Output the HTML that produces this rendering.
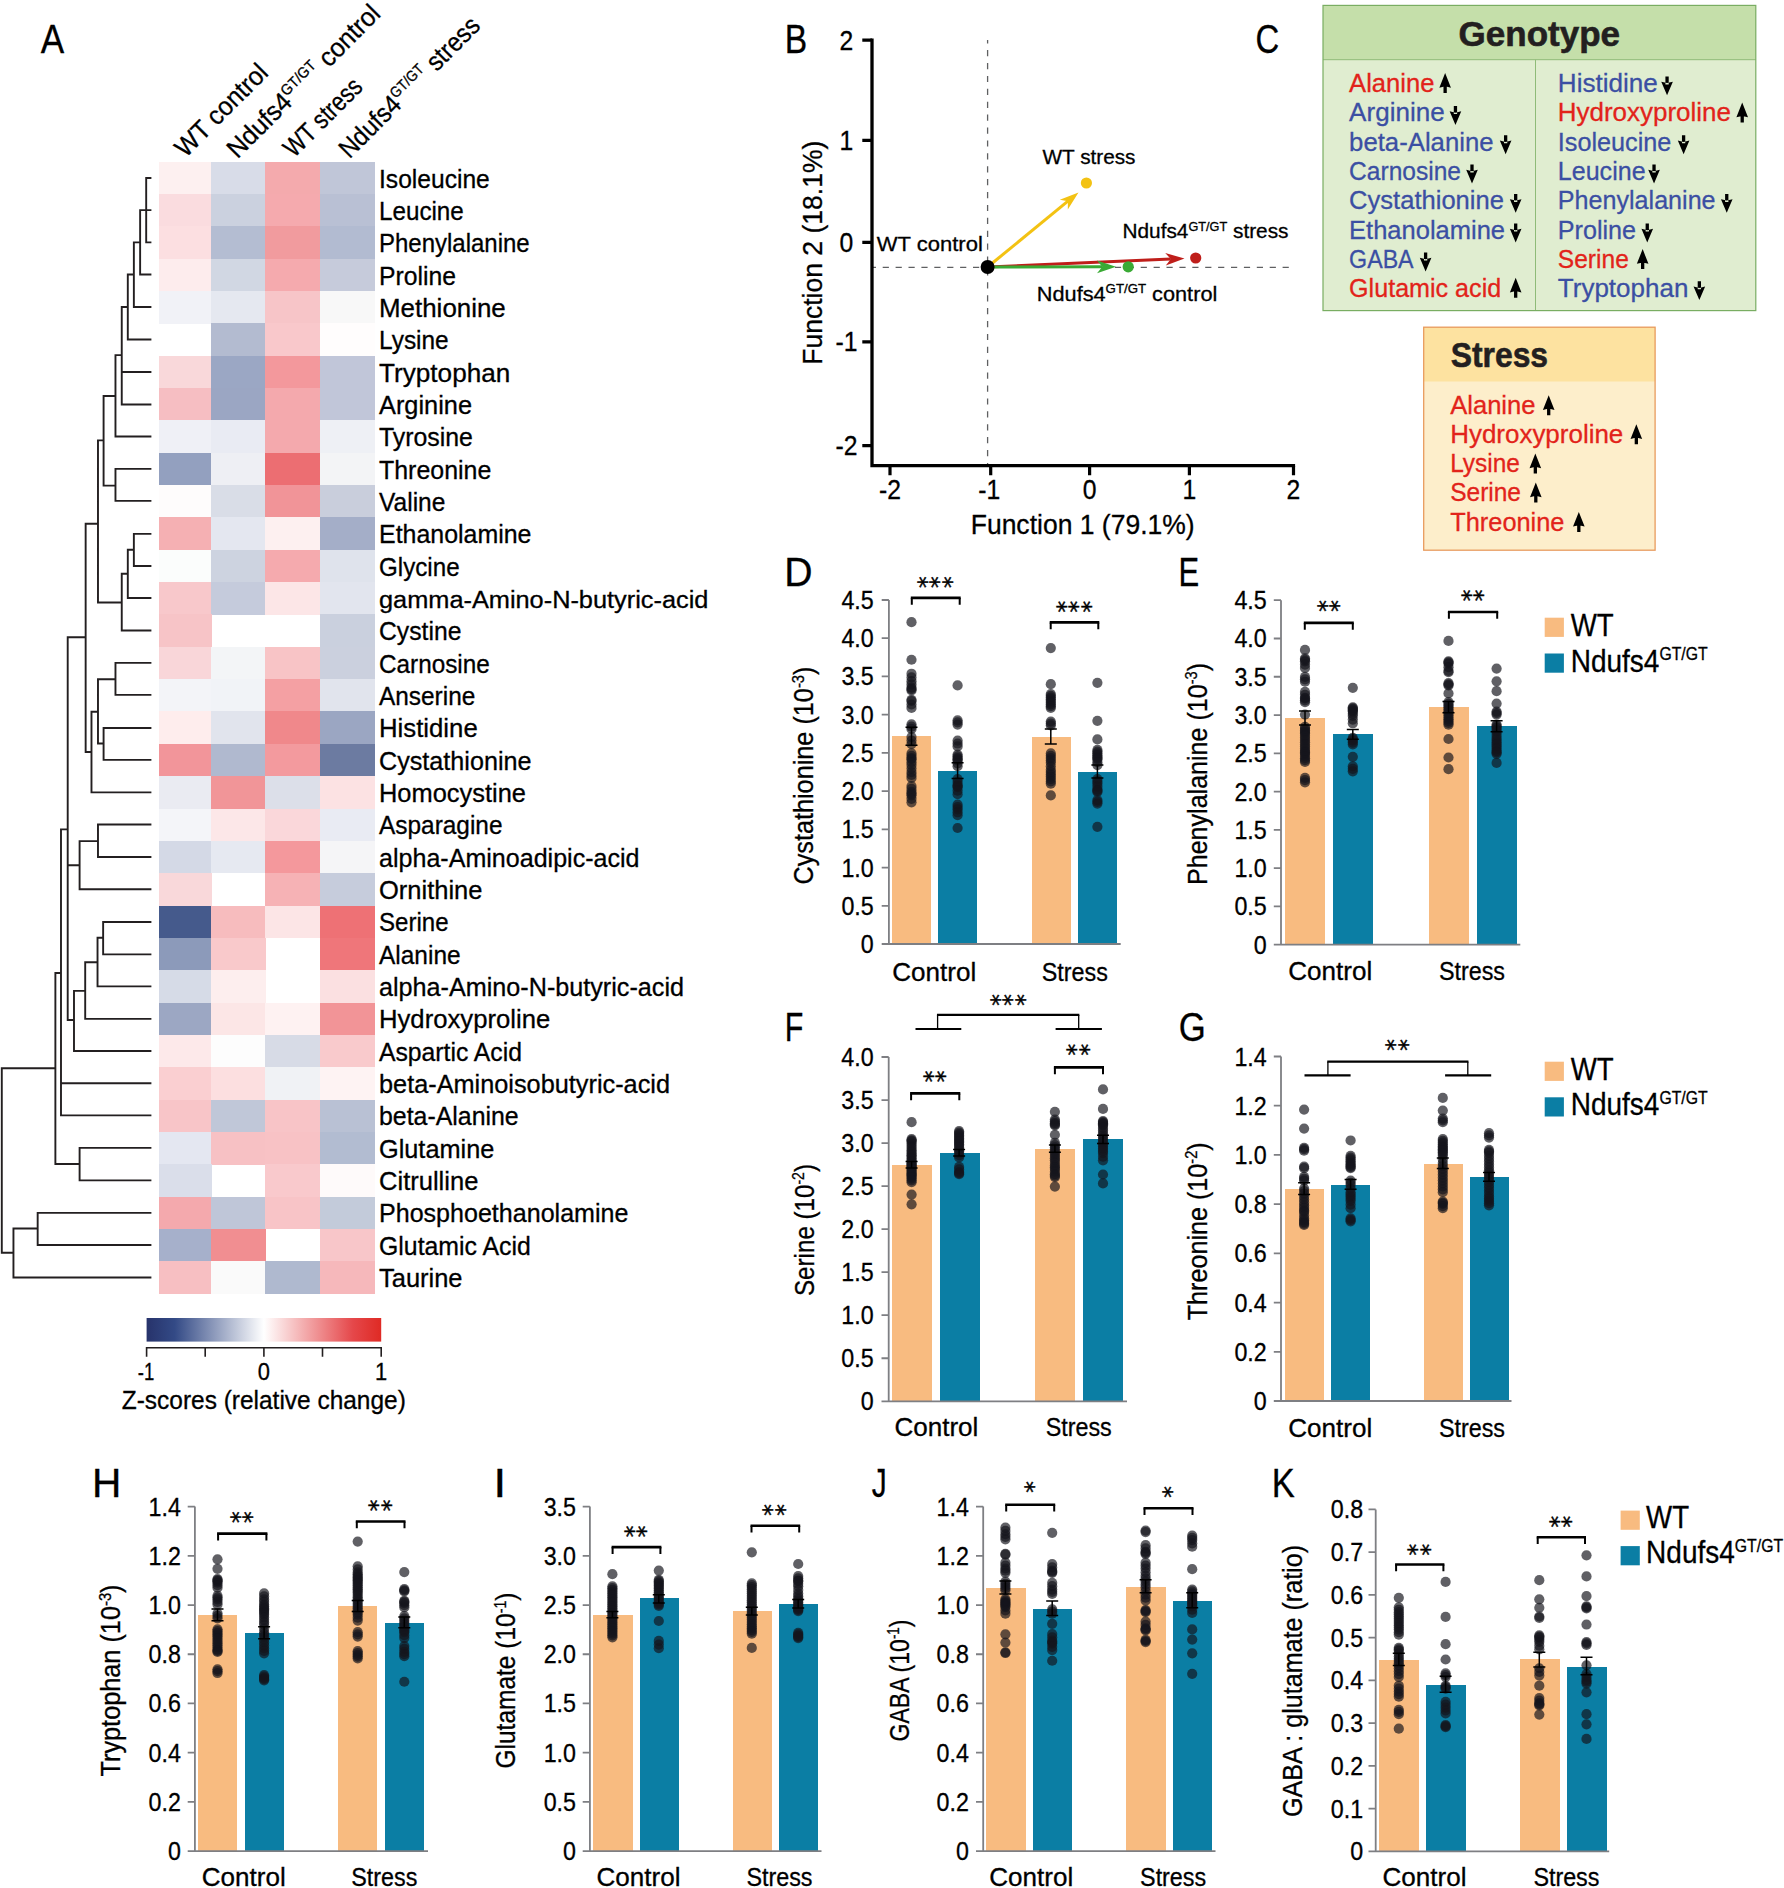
<!DOCTYPE html>
<html><head><meta charset="utf-8"><title>Figure</title>
<style>html,body{margin:0;padding:0;background:#fff}svg{display:block}text{font-family:"Liberation Sans",sans-serif}</style>
</head><body>
<svg width="1784" height="1888" viewBox="0 0 1784 1888">
<defs><linearGradient id="cb" x1="0" x2="1" y1="0" y2="0">
<stop offset="0" stop-color="#27336b"/><stop offset="0.12" stop-color="#334a86"/><stop offset="0.5" stop-color="#ffffff"/><stop offset="0.88" stop-color="#e5474a"/><stop offset="1" stop-color="#df2a24"/></linearGradient></defs>
<rect width="1784" height="1888" fill="#fff"/>
<g shape-rendering="crispEdges">
<rect x="159.2" y="161.7" width="52.5" height="32.64" fill="#fdf0f0"/>
<rect x="211.4" y="161.7" width="54.1" height="32.64" fill="#d8dce8"/>
<rect x="265.2" y="161.7" width="54.6" height="32.64" fill="#f4aaad"/>
<rect x="319.5" y="161.7" width="55.7" height="32.64" fill="#c0c6d8"/>
<rect x="159.2" y="194.04" width="52.5" height="32.64" fill="#fadcdf"/>
<rect x="211.4" y="194.04" width="54.1" height="32.64" fill="#cbd1df"/>
<rect x="265.2" y="194.04" width="54.6" height="32.64" fill="#f5aaae"/>
<rect x="319.5" y="194.04" width="55.7" height="32.64" fill="#b9c0d4"/>
<rect x="159.2" y="226.38" width="52.5" height="32.64" fill="#fcdfe1"/>
<rect x="211.4" y="226.38" width="54.1" height="32.64" fill="#b4bdd2"/>
<rect x="265.2" y="226.38" width="54.6" height="32.64" fill="#f19b9e"/>
<rect x="319.5" y="226.38" width="55.7" height="32.64" fill="#b2bbd1"/>
<rect x="159.2" y="258.72" width="52.5" height="32.64" fill="#fdeced"/>
<rect x="211.4" y="258.72" width="54.1" height="32.64" fill="#d1d7e3"/>
<rect x="265.2" y="258.72" width="54.6" height="32.64" fill="#f5aaae"/>
<rect x="319.5" y="258.72" width="55.7" height="32.64" fill="#c6cbdb"/>
<rect x="159.2" y="291.06" width="52.5" height="32.64" fill="#f1f2f7"/>
<rect x="211.4" y="291.06" width="54.1" height="32.64" fill="#e5e8f0"/>
<rect x="265.2" y="291.06" width="54.6" height="32.64" fill="#f7c5c8"/>
<rect x="319.5" y="291.06" width="55.7" height="32.64" fill="#f8f8f8"/>
<rect x="211.4" y="323.4" width="54.1" height="32.64" fill="#b3bbd0"/>
<rect x="265.2" y="323.4" width="54.6" height="32.64" fill="#f9c8cb"/>
<rect x="319.5" y="323.4" width="55.7" height="32.64" fill="#fffdfd"/>
<rect x="159.2" y="355.74" width="52.5" height="32.64" fill="#f9d8da"/>
<rect x="211.4" y="355.74" width="54.1" height="32.64" fill="#9ba7c4"/>
<rect x="265.2" y="355.74" width="54.6" height="32.64" fill="#f3989c"/>
<rect x="319.5" y="355.74" width="55.7" height="32.64" fill="#c1c6d9"/>
<rect x="159.2" y="388.08" width="52.5" height="32.64" fill="#f6bec2"/>
<rect x="211.4" y="388.08" width="54.1" height="32.64" fill="#9ba6c3"/>
<rect x="265.2" y="388.08" width="54.6" height="32.64" fill="#f4a9ad"/>
<rect x="319.5" y="388.08" width="55.7" height="32.64" fill="#c1c6d9"/>
<rect x="159.2" y="420.42" width="52.5" height="32.64" fill="#eff0f6"/>
<rect x="211.4" y="420.42" width="54.1" height="32.64" fill="#e9ebf3"/>
<rect x="265.2" y="420.42" width="54.6" height="32.64" fill="#f4a9ad"/>
<rect x="319.5" y="420.42" width="55.7" height="32.64" fill="#eef0f5"/>
<rect x="159.2" y="452.76" width="52.5" height="32.64" fill="#93a0bf"/>
<rect x="211.4" y="452.76" width="54.1" height="32.64" fill="#eeeff4"/>
<rect x="265.2" y="452.76" width="54.6" height="32.64" fill="#ec6e72"/>
<rect x="319.5" y="452.76" width="55.7" height="32.64" fill="#f3f4f6"/>
<rect x="159.2" y="485.1" width="52.5" height="32.64" fill="#fefcfc"/>
<rect x="211.4" y="485.1" width="54.1" height="32.64" fill="#d9dde7"/>
<rect x="265.2" y="485.1" width="54.6" height="32.64" fill="#f19498"/>
<rect x="319.5" y="485.1" width="55.7" height="32.64" fill="#c9cedc"/>
<rect x="159.2" y="517.44" width="52.5" height="32.64" fill="#f5b0b3"/>
<rect x="211.4" y="517.44" width="54.1" height="32.64" fill="#e4e7f0"/>
<rect x="265.2" y="517.44" width="54.6" height="32.64" fill="#fdf0f0"/>
<rect x="319.5" y="517.44" width="55.7" height="32.64" fill="#a4aec8"/>
<rect x="159.2" y="549.78" width="52.5" height="32.64" fill="#fbfdfc"/>
<rect x="211.4" y="549.78" width="54.1" height="32.64" fill="#cdd3e0"/>
<rect x="265.2" y="549.78" width="54.6" height="32.64" fill="#f5aaae"/>
<rect x="319.5" y="549.78" width="55.7" height="32.64" fill="#dfe3ec"/>
<rect x="159.2" y="582.12" width="52.5" height="32.64" fill="#f8c8cb"/>
<rect x="211.4" y="582.12" width="54.1" height="32.64" fill="#c5cbdc"/>
<rect x="265.2" y="582.12" width="54.6" height="32.64" fill="#fce6e7"/>
<rect x="319.5" y="582.12" width="55.7" height="32.64" fill="#e2e5ee"/>
<rect x="159.2" y="614.46" width="52.5" height="32.64" fill="#f7c4c7"/>
<rect x="319.5" y="614.46" width="55.7" height="32.64" fill="#cad0de"/>
<rect x="159.2" y="646.8" width="52.5" height="32.64" fill="#f9d6d9"/>
<rect x="211.4" y="646.8" width="54.1" height="32.64" fill="#f3f5f7"/>
<rect x="265.2" y="646.8" width="54.6" height="32.64" fill="#f8c4c6"/>
<rect x="319.5" y="646.8" width="55.7" height="32.64" fill="#cbd0de"/>
<rect x="159.2" y="679.14" width="52.5" height="32.64" fill="#f3f4f8"/>
<rect x="211.4" y="679.14" width="54.1" height="32.64" fill="#f1f3f7"/>
<rect x="265.2" y="679.14" width="54.6" height="32.64" fill="#f4a0a3"/>
<rect x="319.5" y="679.14" width="55.7" height="32.64" fill="#e1e4ed"/>
<rect x="159.2" y="711.48" width="52.5" height="32.64" fill="#feeded"/>
<rect x="211.4" y="711.48" width="54.1" height="32.64" fill="#e1e4ed"/>
<rect x="265.2" y="711.48" width="54.6" height="32.64" fill="#f0888b"/>
<rect x="319.5" y="711.48" width="55.7" height="32.64" fill="#9ba6c2"/>
<rect x="159.2" y="743.82" width="52.5" height="32.64" fill="#f2959a"/>
<rect x="211.4" y="743.82" width="54.1" height="32.64" fill="#b0b9cf"/>
<rect x="265.2" y="743.82" width="54.6" height="32.64" fill="#f39a9e"/>
<rect x="319.5" y="743.82" width="55.7" height="32.64" fill="#6c7ba1"/>
<rect x="159.2" y="776.16" width="52.5" height="32.64" fill="#eaebf2"/>
<rect x="211.4" y="776.16" width="54.1" height="32.64" fill="#f19598"/>
<rect x="265.2" y="776.16" width="54.6" height="32.64" fill="#dcdfe9"/>
<rect x="319.5" y="776.16" width="55.7" height="32.64" fill="#fce2e3"/>
<rect x="159.2" y="808.5" width="52.5" height="32.64" fill="#f4f5f9"/>
<rect x="211.4" y="808.5" width="54.1" height="32.64" fill="#fce7e8"/>
<rect x="265.2" y="808.5" width="54.6" height="32.64" fill="#fad7da"/>
<rect x="319.5" y="808.5" width="55.7" height="32.64" fill="#e9ebf3"/>
<rect x="159.2" y="840.84" width="52.5" height="32.64" fill="#d4d9e6"/>
<rect x="211.4" y="840.84" width="54.1" height="32.64" fill="#e6e9f1"/>
<rect x="265.2" y="840.84" width="54.6" height="32.64" fill="#f4989c"/>
<rect x="319.5" y="840.84" width="55.7" height="32.64" fill="#f5f5f7"/>
<rect x="159.2" y="873.18" width="52.5" height="32.64" fill="#f9d8da"/>
<rect x="265.2" y="873.18" width="54.6" height="32.64" fill="#f6b2b5"/>
<rect x="319.5" y="873.18" width="55.7" height="32.64" fill="#c6ccdc"/>
<rect x="159.2" y="905.52" width="52.5" height="32.64" fill="#455a8c"/>
<rect x="211.4" y="905.52" width="54.1" height="32.64" fill="#f7bcbe"/>
<rect x="265.2" y="905.52" width="54.6" height="32.64" fill="#fce5e6"/>
<rect x="319.5" y="905.52" width="55.7" height="32.64" fill="#ee7175"/>
<rect x="159.2" y="937.86" width="52.5" height="32.64" fill="#8c9aba"/>
<rect x="211.4" y="937.86" width="54.1" height="32.64" fill="#f9c9cb"/>
<rect x="319.5" y="937.86" width="55.7" height="32.64" fill="#ef767a"/>
<rect x="159.2" y="970.2" width="52.5" height="32.64" fill="#d6dbe7"/>
<rect x="211.4" y="970.2" width="54.1" height="32.64" fill="#fdeeee"/>
<rect x="319.5" y="970.2" width="55.7" height="32.64" fill="#fbe0e1"/>
<rect x="159.2" y="1002.54" width="52.5" height="32.64" fill="#9ca7c3"/>
<rect x="211.4" y="1002.54" width="54.1" height="32.64" fill="#fce6e6"/>
<rect x="265.2" y="1002.54" width="54.6" height="32.64" fill="#fef2f2"/>
<rect x="319.5" y="1002.54" width="55.7" height="32.64" fill="#f29497"/>
<rect x="159.2" y="1034.88" width="52.5" height="32.64" fill="#fde9ea"/>
<rect x="211.4" y="1034.88" width="54.1" height="32.64" fill="#fdfdfd"/>
<rect x="265.2" y="1034.88" width="54.6" height="32.64" fill="#d7dbe6"/>
<rect x="319.5" y="1034.88" width="55.7" height="32.64" fill="#f9cacc"/>
<rect x="159.2" y="1067.22" width="52.5" height="32.64" fill="#facfd1"/>
<rect x="211.4" y="1067.22" width="54.1" height="32.64" fill="#fcdfe0"/>
<rect x="265.2" y="1067.22" width="54.6" height="32.64" fill="#f0f2f5"/>
<rect x="319.5" y="1067.22" width="55.7" height="32.64" fill="#fef3f3"/>
<rect x="159.2" y="1099.56" width="52.5" height="32.64" fill="#f8c5c8"/>
<rect x="211.4" y="1099.56" width="54.1" height="32.64" fill="#c0c7d8"/>
<rect x="265.2" y="1099.56" width="54.6" height="32.64" fill="#f8c4c7"/>
<rect x="319.5" y="1099.56" width="55.7" height="32.64" fill="#b9c1d4"/>
<rect x="159.2" y="1131.9" width="52.5" height="32.64" fill="#e4e7f1"/>
<rect x="211.4" y="1131.9" width="54.1" height="32.64" fill="#f7c1c4"/>
<rect x="265.2" y="1131.9" width="54.6" height="32.64" fill="#f8c2c5"/>
<rect x="319.5" y="1131.9" width="55.7" height="32.64" fill="#b2bcd1"/>
<rect x="159.2" y="1164.24" width="52.5" height="32.64" fill="#dadeea"/>
<rect x="265.2" y="1164.24" width="54.6" height="32.64" fill="#f9c9cc"/>
<rect x="319.5" y="1164.24" width="55.7" height="32.64" fill="#fefafa"/>
<rect x="159.2" y="1196.58" width="52.5" height="32.64" fill="#f4a9ad"/>
<rect x="211.4" y="1196.58" width="54.1" height="32.64" fill="#bfc6d8"/>
<rect x="265.2" y="1196.58" width="54.6" height="32.64" fill="#f8c4c7"/>
<rect x="319.5" y="1196.58" width="55.7" height="32.64" fill="#c3cbda"/>
<rect x="159.2" y="1228.92" width="52.5" height="32.64" fill="#a6b0cb"/>
<rect x="211.4" y="1228.92" width="54.1" height="32.64" fill="#f18e91"/>
<rect x="319.5" y="1228.92" width="55.7" height="32.64" fill="#f8c6c9"/>
<rect x="159.2" y="1261.26" width="52.5" height="32.64" fill="#f7bfc2"/>
<rect x="211.4" y="1261.26" width="54.1" height="32.64" fill="#fafafa"/>
<rect x="265.2" y="1261.26" width="54.6" height="32.64" fill="#afb9cf"/>
<rect x="319.5" y="1261.26" width="55.7" height="32.64" fill="#f6b8bb"/>
</g>
<text x="379" y="187.6" font-size="25.3" textLength="110.8" lengthAdjust="spacingAndGlyphs" stroke="#000" stroke-width="0.3">Isoleucine</text>
<text x="379" y="219.94" font-size="25.3" textLength="84.8" lengthAdjust="spacingAndGlyphs" stroke="#000" stroke-width="0.3">Leucine</text>
<text x="379" y="252.28" font-size="25.3" textLength="150.7" lengthAdjust="spacingAndGlyphs" stroke="#000" stroke-width="0.3">Phenylalanine</text>
<text x="379" y="284.62" font-size="25.3" textLength="77" lengthAdjust="spacingAndGlyphs" stroke="#000" stroke-width="0.3">Proline</text>
<text x="379" y="316.96" font-size="25.3" textLength="126.8" lengthAdjust="spacingAndGlyphs" stroke="#000" stroke-width="0.3">Methionine</text>
<text x="379" y="349.3" font-size="25.3" textLength="69.7" lengthAdjust="spacingAndGlyphs" stroke="#000" stroke-width="0.3">Lysine</text>
<text x="379" y="381.64" font-size="25.3" textLength="131.3" lengthAdjust="spacingAndGlyphs" stroke="#000" stroke-width="0.3">Tryptophan</text>
<text x="379" y="413.98" font-size="25.3" textLength="93" lengthAdjust="spacingAndGlyphs" stroke="#000" stroke-width="0.3">Arginine</text>
<text x="379" y="446.32" font-size="25.3" textLength="93.9" lengthAdjust="spacingAndGlyphs" stroke="#000" stroke-width="0.3">Tyrosine</text>
<text x="379" y="478.66" font-size="25.3" textLength="112.3" lengthAdjust="spacingAndGlyphs" stroke="#000" stroke-width="0.3">Threonine</text>
<text x="379" y="511" font-size="25.3" textLength="66.4" lengthAdjust="spacingAndGlyphs" stroke="#000" stroke-width="0.3">Valine</text>
<text x="379" y="543.34" font-size="25.3" textLength="152.5" lengthAdjust="spacingAndGlyphs" stroke="#000" stroke-width="0.3">Ethanolamine</text>
<text x="379" y="575.68" font-size="25.3" textLength="80.6" lengthAdjust="spacingAndGlyphs" stroke="#000" stroke-width="0.3">Glycine</text>
<text x="379" y="608.02" font-size="23.5" textLength="329.4" lengthAdjust="spacingAndGlyphs" stroke="#000" stroke-width="0.3">gamma-Amino-N-butyric-acid</text>
<text x="379" y="640.36" font-size="25.3" textLength="82.4" lengthAdjust="spacingAndGlyphs" stroke="#000" stroke-width="0.3">Cystine</text>
<text x="379" y="672.7" font-size="25.3" textLength="110.8" lengthAdjust="spacingAndGlyphs" stroke="#000" stroke-width="0.3">Carnosine</text>
<text x="379" y="705.04" font-size="25.3" textLength="96.3" lengthAdjust="spacingAndGlyphs" stroke="#000" stroke-width="0.3">Anserine</text>
<text x="379" y="737.38" font-size="25.3" textLength="98.7" lengthAdjust="spacingAndGlyphs" stroke="#000" stroke-width="0.3">Histidine</text>
<text x="379" y="769.72" font-size="25.3" textLength="152.5" lengthAdjust="spacingAndGlyphs" stroke="#000" stroke-width="0.3">Cystathionine</text>
<text x="379" y="802.06" font-size="25.3" textLength="147" lengthAdjust="spacingAndGlyphs" stroke="#000" stroke-width="0.3">Homocystine</text>
<text x="379" y="834.4" font-size="25.3" textLength="123.5" lengthAdjust="spacingAndGlyphs" stroke="#000" stroke-width="0.3">Asparagine</text>
<text x="379" y="866.74" font-size="25.3" textLength="260.5" lengthAdjust="spacingAndGlyphs" stroke="#000" stroke-width="0.3">alpha-Aminoadipic-acid</text>
<text x="379" y="899.08" font-size="25.3" textLength="103.5" lengthAdjust="spacingAndGlyphs" stroke="#000" stroke-width="0.3">Ornithine</text>
<text x="379" y="931.42" font-size="25.3" textLength="69.5" lengthAdjust="spacingAndGlyphs" stroke="#000" stroke-width="0.3">Serine</text>
<text x="379" y="963.76" font-size="25.3" textLength="81.6" lengthAdjust="spacingAndGlyphs" stroke="#000" stroke-width="0.3">Alanine</text>
<text x="379" y="996.1" font-size="25.3" textLength="305" lengthAdjust="spacingAndGlyphs" stroke="#000" stroke-width="0.3">alpha-Amino-N-butyric-acid</text>
<text x="379" y="1028.44" font-size="25.3" textLength="171.2" lengthAdjust="spacingAndGlyphs" stroke="#000" stroke-width="0.3">Hydroxyproline</text>
<text x="379" y="1060.78" font-size="25.3" textLength="142.9" lengthAdjust="spacingAndGlyphs" stroke="#000" stroke-width="0.3">Aspartic Acid</text>
<text x="379" y="1093.12" font-size="25.3" textLength="291" lengthAdjust="spacingAndGlyphs" stroke="#000" stroke-width="0.3">beta-Aminoisobutyric-acid</text>
<text x="379" y="1125.46" font-size="25.3" textLength="139.7" lengthAdjust="spacingAndGlyphs" stroke="#000" stroke-width="0.3">beta-Alanine</text>
<text x="379" y="1157.8" font-size="25.3" textLength="115.3" lengthAdjust="spacingAndGlyphs" stroke="#000" stroke-width="0.3">Glutamine</text>
<text x="379" y="1190.14" font-size="25.3" textLength="99.4" lengthAdjust="spacingAndGlyphs" stroke="#000" stroke-width="0.3">Citrulline</text>
<text x="379" y="1222.48" font-size="25.3" textLength="249.4" lengthAdjust="spacingAndGlyphs" stroke="#000" stroke-width="0.3">Phosphoethanolamine</text>
<text x="379" y="1254.82" font-size="25.3" textLength="151.8" lengthAdjust="spacingAndGlyphs" stroke="#000" stroke-width="0.3">Glutamic Acid</text>
<text x="379" y="1287.16" font-size="25.3" textLength="83.5" lengthAdjust="spacingAndGlyphs" stroke="#000" stroke-width="0.3">Taurine</text>
<path d="M146.19 178.03L146.19 242.38M146.19 178.03L150.45 178.03M146.19 210.09L150.45 210.09M146.19 242.38L150.45 242.38M140.13 210.09L146.19 210.09M140.13 210.09L140.13 274.44M140.13 274.44L150.45 274.44M133.86 242.38L140.13 242.38M133.86 242.38L133.86 306.95M133.86 306.95L150.45 306.95M127.8 274.44L133.86 274.44M127.8 274.44L127.8 339.46M127.8 339.46L150.45 339.46M121.75 306.95L127.8 306.95M121.75 306.95L121.75 404.48M121.75 371.97L150.45 371.97M121.75 404.48L150.45 404.48M115.47 355.16L121.75 355.16M115.47 355.16L115.47 436.55M115.47 436.55L150.45 436.55M103.59 395.96L115.47 395.96M103.59 395.96L103.59 485.65M115.47 468.83L115.47 500.9M115.47 468.83L150.45 468.83M115.47 500.9L150.45 500.9M103.59 485.65L115.47 485.65M97.98 440.36L103.59 440.36M97.98 440.36L97.98 602.47M85.65 523.77L97.98 523.77M85.65 523.77L85.65 752.02M133.86 533.9L133.86 565.96M133.86 533.9L150.45 533.9M133.86 565.96L150.45 565.96M127.8 549.82L133.86 549.82M127.8 549.82L127.8 598.03M127.8 598.03L150.45 598.03M121.75 573.81L127.8 573.81M121.75 573.81L121.75 630.54M121.75 630.54L150.45 630.54M97.98 602.51L121.75 602.51M85.65 752.06L91.48 752.06M91.48 711.7L91.48 792.42M91.48 711.7L97.98 711.7M97.98 679.19L97.98 743.54M97.98 679.19L115.47 679.19M115.47 662.83L115.47 694.89M115.47 662.83L150.45 662.83M115.47 694.89L150.45 694.89M97.98 743.54L103.59 743.54M103.59 728.07L103.59 759.91M103.59 728.07L150.45 728.07M103.59 759.91L150.45 759.91M91.48 792.42L150.45 792.42M67.71 637.26L85.65 637.26M67.71 637.26L67.71 1020M97.98 824.48L97.98 857M97.98 824.48L150.45 824.48M97.98 857L150.45 857M79.6 841.08L97.98 841.08M79.6 841.08L79.6 889.28M79.6 889.28L150.45 889.28M67.71 865.29L79.6 865.29M60.99 829.42L67.71 829.42M60.99 829.42L60.99 1115.29M103.14 922.06L103.14 954.35M103.14 922.06L150.45 922.06M103.14 954.35L150.45 954.35M97.53 937.76L103.14 937.76M97.53 937.76L97.53 986.41M97.53 986.41L150.45 986.41M85.2 962.2L97.53 962.2M85.2 962.2L85.2 1018.92M85.2 1018.92L150.45 1018.92M73.99 990.9L85.2 990.9M73.99 990.9L73.99 1050.99M73.99 1050.99L150.45 1050.99M67.71 1020.04L73.99 1020.04M60.99 1083.27L150.45 1083.27M60.99 1115.34L150.45 1115.34M55.38 972.96L60.99 972.96M55.38 972.96L55.38 1163.99M55.38 1163.99L79.6 1163.99M79.6 1147.85L79.6 1180.36M79.6 1147.85L150.45 1147.85M79.6 1180.36L150.45 1180.36M1.79 1068.25L55.38 1068.25M1.79 1068.25L1.79 1252.78M1.79 1252.78L13.45 1252.78M13.45 1228.57L13.45 1277.44M13.45 1277.44L150.45 1277.44M13.45 1228.57L37.67 1228.57M37.67 1212.87L37.67 1244.93M37.67 1212.87L150.45 1212.87M37.67 1244.93L150.45 1244.93" stroke="#231f20" stroke-width="1.9" fill="none" stroke-linecap="square"/>
<text transform="translate(185.4 158.5) rotate(-45)" font-size="26.5" stroke="#000" stroke-width="0.3" textLength="119" lengthAdjust="spacingAndGlyphs">WT control</text>
<text transform="translate(237.6 159.6) rotate(-45)" font-size="26.5" stroke="#000" stroke-width="0.3" textLength="204" lengthAdjust="spacingAndGlyphs">Ndufs4<tspan font-size="15" dy="-10">GT/GT</tspan><tspan dy="10"> control</tspan></text>
<text transform="translate(294 158.5) rotate(-45)" font-size="26.5" stroke="#000" stroke-width="0.3" textLength="99" lengthAdjust="spacingAndGlyphs">WT stress</text>
<text transform="translate(349.4 159.6) rotate(-45)" font-size="26.5" stroke="#000" stroke-width="0.3" textLength="187" lengthAdjust="spacingAndGlyphs">Ndufs4<tspan font-size="15" dy="-10">GT/GT</tspan><tspan dy="10"> stress</tspan></text>
<rect x="146.6" y="1318" width="234.6" height="23.6" fill="url(#cb)"/>
<path d="M146.6 1356.8V1347.8H381.2V1356.8M205.2 1347.8V1356.8M263.9 1347.8V1356.8M322.5 1347.8V1356.8" stroke="#231f20" stroke-width="1.6" fill="none"/>
<text x="146" y="1380.4" font-size="24" text-anchor="middle" textLength="16.5" lengthAdjust="spacingAndGlyphs" stroke="#000" stroke-width="0.3">-1</text>
<text x="263.9" y="1380.4" font-size="24" text-anchor="middle" textLength="12.2" lengthAdjust="spacingAndGlyphs" stroke="#000" stroke-width="0.3">0</text>
<text x="381.2" y="1380.4" font-size="24" text-anchor="middle" textLength="12.2" lengthAdjust="spacingAndGlyphs" stroke="#000" stroke-width="0.3">1</text>
<text x="121.8" y="1408.7" font-size="25.3" textLength="284" lengthAdjust="spacingAndGlyphs" stroke="#000" stroke-width="0.3">Z-scores (relative change)</text>
<text x="40.63" y="53" font-size="40" textLength="23.44" lengthAdjust="spacingAndGlyphs" stroke="#000" stroke-width="0.3">A</text>
<path d="M987.6 40V465" stroke="#5f6062" stroke-width="1.3" stroke-dasharray="6.2 6.7" stroke-dashoffset="2.8" fill="none"/>
<path d="M873 267.4H1293" stroke="#5f6062" stroke-width="1.3" stroke-dasharray="6.2 6.7" stroke-dashoffset="3.2" fill="none"/>
<path d="M872 38.6V465.7H1295.1" stroke="#000" stroke-width="3.3" fill="none"/>
<path d="M862.3 40.2H872M862.3 140.3H872M862.3 242.3H872M862.3 341.8H872M862.3 445.6H872M890 465.7V475.3M990.7 465.7V475.3M1089.6 465.7V475.3M1189.4 465.7V475.3M1293.5 465.7V475.3" stroke="#000" stroke-width="3.2" fill="none"/>
<text x="846.5" y="49.5" font-size="27.5" text-anchor="middle" textLength="13.76" lengthAdjust="spacingAndGlyphs" stroke="#000" stroke-width="0.3">2</text>
<text x="846.5" y="149.6" font-size="27.5" text-anchor="middle" textLength="13.76" lengthAdjust="spacingAndGlyphs" stroke="#000" stroke-width="0.3">1</text>
<text x="846.5" y="251.6" font-size="27.5" text-anchor="middle" textLength="13.76" lengthAdjust="spacingAndGlyphs" stroke="#000" stroke-width="0.3">0</text>
<text x="846.5" y="351.1" font-size="27.5" text-anchor="middle" textLength="22" lengthAdjust="spacingAndGlyphs" stroke="#000" stroke-width="0.3">-1</text>
<text x="846.5" y="454.9" font-size="27.5" text-anchor="middle" textLength="22" lengthAdjust="spacingAndGlyphs" stroke="#000" stroke-width="0.3">-2</text>
<text x="890" y="499.3" font-size="27.5" text-anchor="middle" textLength="22" lengthAdjust="spacingAndGlyphs" stroke="#000" stroke-width="0.3">-2</text>
<text x="989.2" y="499.3" font-size="27.5" text-anchor="middle" textLength="22" lengthAdjust="spacingAndGlyphs" stroke="#000" stroke-width="0.3">-1</text>
<text x="1089.6" y="499.3" font-size="27.5" text-anchor="middle" textLength="13.76" lengthAdjust="spacingAndGlyphs" stroke="#000" stroke-width="0.3">0</text>
<text x="1189.4" y="499.3" font-size="27.5" text-anchor="middle" textLength="13.76" lengthAdjust="spacingAndGlyphs" stroke="#000" stroke-width="0.3">1</text>
<text x="1293.5" y="499.3" font-size="27.5" text-anchor="middle" textLength="13.76" lengthAdjust="spacingAndGlyphs" stroke="#000" stroke-width="0.3">2</text>
<text x="1082.7" y="533.8" font-size="27" text-anchor="middle" textLength="224" lengthAdjust="spacingAndGlyphs" stroke="#000" stroke-width="0.3">Function 1 (79.1%)</text>
<text transform="translate(822 252.7) rotate(-90)" font-size="27" stroke="#000" stroke-width="0.3" text-anchor="middle" textLength="224" lengthAdjust="spacingAndGlyphs">Function 2 (18.1%)</text>
<path d="M987.6 267L1170.83 259.09" stroke="#bf1e1a" stroke-width="3" fill="none"/>
<path d="M1184.5 258.5L1165.79 265.61L1170.83 259.09L1165.25 253.03Z" fill="#bf1e1a"/>
<path d="M987.6 267L1102.32 266.82" stroke="#3aaa35" stroke-width="3" fill="none"/>
<path d="M1116 266.8L1097.01 273.13L1102.32 266.82L1096.99 260.53Z" fill="#3aaa35"/>
<path d="M987.6 267L1067.92 201.17" stroke="#f3c213" stroke-width="3" fill="none"/>
<path d="M1078.5 192.5L1067.8 209.42L1067.92 201.17L1059.81 199.67Z" fill="#f3c213"/>
<circle cx="1086.4" cy="183" r="5.6" fill="#f3c213"/>
<circle cx="1128.2" cy="266.8" r="5.6" fill="#3aaa35"/>
<circle cx="1195.7" cy="258" r="5.6" fill="#bf1e1a"/>
<circle cx="987.6" cy="267" r="7" fill="#000"/>
<text x="1042.5" y="163.8" font-size="20.5" textLength="93" lengthAdjust="spacingAndGlyphs" stroke="#000" stroke-width="0.3">WT stress</text>
<text x="1122.5" y="238" font-size="20.5" textLength="166" lengthAdjust="spacingAndGlyphs" stroke="#000" stroke-width="0.3">Ndufs4<tspan font-size="12.5" dy="-7.5">GT/GT</tspan><tspan dy="7.5"> stress</tspan></text>
<text x="876.8" y="251" font-size="20.5" textLength="106" lengthAdjust="spacingAndGlyphs" stroke="#000" stroke-width="0.3">WT control</text>
<text x="1036.8" y="300.7" font-size="20.5" textLength="180.5" lengthAdjust="spacingAndGlyphs" stroke="#000" stroke-width="0.3">Ndufs4<tspan font-size="12.5" dy="-7.5">GT/GT</tspan><tspan dy="7.5"> control</tspan></text>
<text x="784.64" y="53.1" font-size="40" textLength="22.43" lengthAdjust="spacingAndGlyphs" stroke="#000" stroke-width="0.3">B</text>
<text x="1255.43" y="52.8" font-size="40" textLength="23.72" lengthAdjust="spacingAndGlyphs" stroke="#000" stroke-width="0.3">C</text>
<rect x="1323" y="5.4" width="432.8" height="305.2" fill="#e0edd0"/>
<rect x="1323" y="5.4" width="432.8" height="54.3" fill="#c5dfaa"/>
<path d="M1323 59.7H1755.8M1535.5 59.7V310.6" stroke="#8fbb78" stroke-width="1" fill="none"/>
<rect x="1323" y="5.4" width="432.8" height="305.2" fill="none" stroke="#79ad62" stroke-width="1.2"/>
<text x="1539.3" y="46" font-size="35" text-anchor="middle" textLength="161.4" lengthAdjust="spacingAndGlyphs" font-weight="bold" fill="#231f20" stroke="#231f20" stroke-width="0.6">Genotype</text>
<text x="1349.1" y="91.75" font-size="26.6" textLength="85.3" lengthAdjust="spacingAndGlyphs" fill="#e2231a" stroke="#e2231a" stroke-width="0.3">Alanine</text>
<path d="M1445.14 73L1450.94 87.7L1445.14 86.3L1439.34 87.7ZM1443.49 85H1446.79V93H1443.49Z" fill="#000"/>
<text x="1349.1" y="121.35" font-size="26.6" textLength="95.6" lengthAdjust="spacingAndGlyphs" fill="#3b4fa3" stroke="#3b4fa3" stroke-width="0.3">Arginine</text>
<path d="M1455.45 124.9L1461.25 111.3L1455.45 112.7L1449.65 111.3ZM1453.8 106H1457.1V114H1453.8Z" fill="#000"/>
<text x="1349.1" y="150.65" font-size="26.6" textLength="144.5" lengthAdjust="spacingAndGlyphs" fill="#3b4fa3" stroke="#3b4fa3" stroke-width="0.3">beta-Alanine</text>
<path d="M1505.64 154.2L1511.44 140.6L1505.64 142L1499.84 140.6ZM1503.99 135.3H1507.29V143.3H1503.99Z" fill="#000"/>
<text x="1349.1" y="179.85" font-size="26.6" textLength="111.9" lengthAdjust="spacingAndGlyphs" fill="#3b4fa3" stroke="#3b4fa3" stroke-width="0.3">Carnosine</text>
<path d="M1472 183.4L1477.8 169.8L1472 171.2L1466.2 169.8ZM1470.35 164.5H1473.65V172.5H1470.35Z" fill="#000"/>
<text x="1349.1" y="209.25" font-size="26.6" textLength="154.8" lengthAdjust="spacingAndGlyphs" fill="#3b4fa3" stroke="#3b4fa3" stroke-width="0.3">Cystathionine</text>
<path d="M1515.68 212.8L1521.48 199.2L1515.68 200.6L1509.88 199.2ZM1514.03 193.9H1517.33V201.9H1514.03Z" fill="#000"/>
<text x="1349.1" y="238.85" font-size="26.6" textLength="155.9" lengthAdjust="spacingAndGlyphs" fill="#3b4fa3" stroke="#3b4fa3" stroke-width="0.3">Ethanolamine</text>
<path d="M1515.68 242.4L1521.48 228.8L1515.68 230.2L1509.88 228.8ZM1514.03 223.5H1517.33V231.5H1514.03Z" fill="#000"/>
<text x="1349.1" y="267.85" font-size="26.6" textLength="64.5" lengthAdjust="spacingAndGlyphs" fill="#3b4fa3" stroke="#3b4fa3" stroke-width="0.3">GABA</text>
<path d="M1425.61 271.4L1431.41 257.8L1425.61 259.2L1419.81 257.8ZM1423.96 252.5H1427.26V260.5H1423.96Z" fill="#000"/>
<text x="1349.1" y="296.55" font-size="26.6" textLength="152.1" lengthAdjust="spacingAndGlyphs" fill="#e2231a" stroke="#e2231a" stroke-width="0.3">Glutamic acid</text>
<path d="M1515.68 277.8L1521.48 292.5L1515.68 291.1L1509.88 292.5ZM1514.03 289.8H1517.33V297.8H1514.03Z" fill="#000"/>
<text x="1557.8" y="91.75" font-size="26.6" textLength="100" lengthAdjust="spacingAndGlyphs" fill="#3b4fa3" stroke="#3b4fa3" stroke-width="0.3">Histidine</text>
<path d="M1667.06 95.3L1672.86 81.7L1667.06 83.1L1661.26 81.7ZM1665.41 76.4H1668.71V84.4H1665.41Z" fill="#000"/>
<text x="1557.8" y="121.35" font-size="26.6" textLength="173.2" lengthAdjust="spacingAndGlyphs" fill="#e2231a" stroke="#e2231a" stroke-width="0.3">Hydroxyproline</text>
<path d="M1742.21 102.6L1748.01 117.3L1742.21 115.9L1736.41 117.3ZM1740.56 114.6H1743.86V122.6H1740.56Z" fill="#000"/>
<text x="1557.8" y="150.65" font-size="26.6" textLength="113.5" lengthAdjust="spacingAndGlyphs" fill="#3b4fa3" stroke="#3b4fa3" stroke-width="0.3">Isoleucine</text>
<path d="M1683.61 154.2L1689.41 140.6L1683.61 142L1677.81 140.6ZM1681.96 135.3H1685.26V143.3H1681.96Z" fill="#000"/>
<text x="1557.8" y="179.85" font-size="26.6" textLength="87.8" lengthAdjust="spacingAndGlyphs" fill="#3b4fa3" stroke="#3b4fa3" stroke-width="0.3">Leucine</text>
<path d="M1654.04 183.4L1659.84 169.8L1654.04 171.2L1648.24 169.8ZM1652.39 164.5H1655.69V172.5H1652.39Z" fill="#000"/>
<text x="1557.8" y="209.25" font-size="26.6" textLength="157.8" lengthAdjust="spacingAndGlyphs" fill="#3b4fa3" stroke="#3b4fa3" stroke-width="0.3">Phenylalanine</text>
<path d="M1726.75 212.8L1732.55 199.2L1726.75 200.6L1720.95 199.2ZM1725.1 193.9H1728.4V201.9H1725.1Z" fill="#000"/>
<text x="1557.8" y="238.85" font-size="26.6" textLength="78.3" lengthAdjust="spacingAndGlyphs" fill="#3b4fa3" stroke="#3b4fa3" stroke-width="0.3">Proline</text>
<path d="M1647.26 242.4L1653.06 228.8L1647.26 230.2L1641.46 228.8ZM1645.61 223.5H1648.91V231.5H1645.61Z" fill="#000"/>
<text x="1557.8" y="267.85" font-size="26.6" textLength="71" lengthAdjust="spacingAndGlyphs" fill="#e2231a" stroke="#e2231a" stroke-width="0.3">Serine</text>
<path d="M1642.65 249.1L1648.45 263.8L1642.65 262.4L1636.85 263.8ZM1641 261.1H1644.3V269.1H1641Z" fill="#000"/>
<text x="1557.8" y="296.55" font-size="26.6" textLength="130.6" lengthAdjust="spacingAndGlyphs" fill="#3b4fa3" stroke="#3b4fa3" stroke-width="0.3">Tryptophan</text>
<path d="M1699.35 300.1L1705.15 286.5L1699.35 287.9L1693.55 286.5ZM1697.7 281.2H1701V289.2H1697.7Z" fill="#000"/>
<rect x="1423.7" y="327.2" width="231.4" height="223" fill="#fdeecb"/>
<rect x="1423.7" y="327.2" width="231.4" height="54.3" fill="#fde2a0"/>
<rect x="1423.7" y="327.2" width="231.4" height="223" fill="none" stroke="#e89b5e" stroke-width="1.3"/>
<text x="1450.7" y="367.3" font-size="35" textLength="97.4" lengthAdjust="spacingAndGlyphs" font-weight="bold" fill="#231f20" stroke="#231f20" stroke-width="0.6">Stress</text>
<text x="1450.2" y="414.05" font-size="26.6" textLength="85.3" lengthAdjust="spacingAndGlyphs" fill="#e2231a" stroke="#e2231a" stroke-width="0.3">Alanine</text>
<path d="M1548.7 395.3L1554.5 410L1548.7 408.6L1542.9 410ZM1547.05 407.3H1550.35V415.3H1547.05Z" fill="#000"/>
<text x="1450.2" y="443.05" font-size="26.6" textLength="173.1" lengthAdjust="spacingAndGlyphs" fill="#e2231a" stroke="#e2231a" stroke-width="0.3">Hydroxyproline</text>
<path d="M1636.34 424.3L1642.14 439L1636.34 437.6L1630.54 439ZM1634.69 436.3H1637.99V444.3H1634.69Z" fill="#000"/>
<text x="1450.2" y="472.25" font-size="26.6" textLength="69.7" lengthAdjust="spacingAndGlyphs" fill="#e2231a" stroke="#e2231a" stroke-width="0.3">Lysine</text>
<path d="M1535.34 453.5L1541.14 468.2L1535.34 466.8L1529.54 468.2ZM1533.69 465.5H1536.99V473.5H1533.69Z" fill="#000"/>
<text x="1450.2" y="501.25" font-size="26.6" textLength="70.8" lengthAdjust="spacingAndGlyphs" fill="#e2231a" stroke="#e2231a" stroke-width="0.3">Serine</text>
<path d="M1535.8 482.5L1541.6 497.2L1535.8 495.8L1530 497.2ZM1534.15 494.5H1537.45V502.5H1534.15Z" fill="#000"/>
<text x="1450.2" y="530.65" font-size="26.6" textLength="114.3" lengthAdjust="spacingAndGlyphs" fill="#e2231a" stroke="#e2231a" stroke-width="0.3">Threonine</text>
<path d="M1578.82 511.9L1584.62 526.6L1578.82 525.2L1573.02 526.6ZM1577.17 523.9H1580.47V531.9H1577.17Z" fill="#000"/>
<g shape-rendering="crispEdges">
<rect x="891.9" y="736.4" width="38.9" height="207.6" fill="#f8bb80"/>
<rect x="938.3" y="770.9" width="39.1" height="173.1" fill="#0b7ea4"/>
<rect x="1031.5" y="737.1" width="39.1" height="206.9" fill="#f8bb80"/>
<rect x="1078.1" y="772" width="39.1" height="172" fill="#0b7ea4"/>
</g>
<path d="M888.9 600V944M881.7 944H1120.7M881.7 600H888.9M881.7 638.22H888.9M881.7 676.44H888.9M881.7 714.67H888.9M881.7 752.89H888.9M881.7 791.11H888.9M881.7 829.33H888.9M881.7 867.56H888.9M881.7 905.78H888.9" stroke="#7e7f83" stroke-width="1.8" fill="none"/>
<text x="873.7" y="609" font-size="25" text-anchor="end" textLength="32.32" lengthAdjust="spacingAndGlyphs" stroke="#000" stroke-width="0.3">4.5</text>
<text x="873.7" y="647.22" font-size="25" text-anchor="end" textLength="32.32" lengthAdjust="spacingAndGlyphs" stroke="#000" stroke-width="0.3">4.0</text>
<text x="873.7" y="685.44" font-size="25" text-anchor="end" textLength="32.32" lengthAdjust="spacingAndGlyphs" stroke="#000" stroke-width="0.3">3.5</text>
<text x="873.7" y="723.67" font-size="25" text-anchor="end" textLength="32.32" lengthAdjust="spacingAndGlyphs" stroke="#000" stroke-width="0.3">3.0</text>
<text x="873.7" y="761.89" font-size="25" text-anchor="end" textLength="32.32" lengthAdjust="spacingAndGlyphs" stroke="#000" stroke-width="0.3">2.5</text>
<text x="873.7" y="800.11" font-size="25" text-anchor="end" textLength="32.32" lengthAdjust="spacingAndGlyphs" stroke="#000" stroke-width="0.3">2.0</text>
<text x="873.7" y="838.33" font-size="25" text-anchor="end" textLength="32.32" lengthAdjust="spacingAndGlyphs" stroke="#000" stroke-width="0.3">1.5</text>
<text x="873.7" y="876.56" font-size="25" text-anchor="end" textLength="32.32" lengthAdjust="spacingAndGlyphs" stroke="#000" stroke-width="0.3">1.0</text>
<text x="873.7" y="914.78" font-size="25" text-anchor="end" textLength="32.32" lengthAdjust="spacingAndGlyphs" stroke="#000" stroke-width="0.3">0.5</text>
<text x="873.7" y="953" font-size="25" text-anchor="end" textLength="12.93" lengthAdjust="spacingAndGlyphs" stroke="#000" stroke-width="0.3">0</text>
<g fill="#15151c" fill-opacity="0.68">
<circle cx="911.5" cy="622.22" r="5.1"/>
<circle cx="911.5" cy="659.74" r="5.1"/>
<circle cx="911.5" cy="673.73" r="5.1"/>
<circle cx="911.5" cy="681.18" r="5.1"/>
<circle cx="911.5" cy="687.71" r="5.1"/>
<circle cx="911.5" cy="690.51" r="5.1"/>
<circle cx="911.5" cy="699.83" r="5.1"/>
<circle cx="911.5" cy="700.99" r="5.1"/>
<circle cx="911.5" cy="707.98" r="5.1"/>
<circle cx="911.5" cy="724.3" r="5.1"/>
<circle cx="911.5" cy="728.96" r="5.1"/>
<circle cx="911.5" cy="737.11" r="5.1"/>
<circle cx="911.5" cy="744.11" r="5.1"/>
<circle cx="911.5" cy="753.43" r="5.1"/>
<circle cx="911.5" cy="758.09" r="5.1"/>
<circle cx="911.5" cy="759.25" r="5.1"/>
<circle cx="911.5" cy="765.08" r="5.1"/>
<circle cx="911.5" cy="772.07" r="5.1"/>
<circle cx="911.5" cy="777.9" r="5.1"/>
<circle cx="911.5" cy="786.05" r="5.1"/>
<circle cx="911.5" cy="791.88" r="5.1"/>
<circle cx="911.5" cy="795.38" r="5.1"/>
<circle cx="911.5" cy="802.37" r="5.1"/>
<circle cx="911.5" cy="677.46" r="5.1"/>
<circle cx="911.5" cy="684.45" r="5.1"/>
<circle cx="911.5" cy="689.11" r="5.1"/>
<circle cx="911.5" cy="704.49" r="5.1"/>
<circle cx="911.5" cy="726.63" r="5.1"/>
<circle cx="911.5" cy="740.61" r="5.1"/>
<circle cx="911.5" cy="755.76" r="5.1"/>
<circle cx="911.5" cy="762.17" r="5.1"/>
<circle cx="911.5" cy="768.58" r="5.1"/>
<circle cx="911.5" cy="774.98" r="5.1"/>
<circle cx="911.5" cy="788.97" r="5.1"/>
<circle cx="911.5" cy="793.63" r="5.1"/>
<circle cx="911.5" cy="798.87" r="5.1"/>
<circle cx="957.6" cy="685.38" r="5.1"/>
<circle cx="957.6" cy="720.34" r="5.1"/>
<circle cx="957.6" cy="724.53" r="5.1"/>
<circle cx="957.6" cy="740.61" r="5.1"/>
<circle cx="957.6" cy="746.44" r="5.1"/>
<circle cx="957.6" cy="754.59" r="5.1"/>
<circle cx="957.6" cy="758.09" r="5.1"/>
<circle cx="957.6" cy="760.42" r="5.1"/>
<circle cx="957.6" cy="766.25" r="5.1"/>
<circle cx="957.6" cy="779.06" r="5.1"/>
<circle cx="957.6" cy="784.89" r="5.1"/>
<circle cx="957.6" cy="787.22" r="5.1"/>
<circle cx="957.6" cy="794.21" r="5.1"/>
<circle cx="957.6" cy="804.7" r="5.1"/>
<circle cx="957.6" cy="809.36" r="5.1"/>
<circle cx="957.6" cy="815.19" r="5.1"/>
<circle cx="957.6" cy="828" r="5.1"/>
<circle cx="957.6" cy="722.43" r="5.1"/>
<circle cx="957.6" cy="743.52" r="5.1"/>
<circle cx="957.6" cy="756.34" r="5.1"/>
<circle cx="957.6" cy="759.25" r="5.1"/>
<circle cx="957.6" cy="763.33" r="5.1"/>
<circle cx="957.6" cy="781.98" r="5.1"/>
<circle cx="957.6" cy="786.05" r="5.1"/>
<circle cx="957.6" cy="790.72" r="5.1"/>
<circle cx="957.6" cy="807.03" r="5.1"/>
<circle cx="957.6" cy="812.27" r="5.1"/>
<circle cx="1050.8" cy="648.09" r="5.1"/>
<circle cx="1050.8" cy="684.21" r="5.1"/>
<circle cx="1050.8" cy="694" r="5.1"/>
<circle cx="1050.8" cy="697.5" r="5.1"/>
<circle cx="1050.8" cy="700.99" r="5.1"/>
<circle cx="1050.8" cy="704.49" r="5.1"/>
<circle cx="1050.8" cy="707.98" r="5.1"/>
<circle cx="1050.8" cy="721.5" r="5.1"/>
<circle cx="1050.8" cy="725.46" r="5.1"/>
<circle cx="1050.8" cy="753.43" r="5.1"/>
<circle cx="1050.8" cy="758.09" r="5.1"/>
<circle cx="1050.8" cy="762.75" r="5.1"/>
<circle cx="1050.8" cy="769.74" r="5.1"/>
<circle cx="1050.8" cy="774.4" r="5.1"/>
<circle cx="1050.8" cy="779.06" r="5.1"/>
<circle cx="1050.8" cy="783.72" r="5.1"/>
<circle cx="1050.8" cy="795.38" r="5.1"/>
<circle cx="1050.8" cy="695.75" r="5.1"/>
<circle cx="1050.8" cy="699.24" r="5.1"/>
<circle cx="1050.8" cy="702.74" r="5.1"/>
<circle cx="1050.8" cy="706.24" r="5.1"/>
<circle cx="1050.8" cy="723.48" r="5.1"/>
<circle cx="1050.8" cy="755.76" r="5.1"/>
<circle cx="1050.8" cy="760.42" r="5.1"/>
<circle cx="1050.8" cy="766.25" r="5.1"/>
<circle cx="1050.8" cy="772.07" r="5.1"/>
<circle cx="1050.8" cy="776.73" r="5.1"/>
<circle cx="1050.8" cy="781.39" r="5.1"/>
<circle cx="1097.4" cy="682.82" r="5.1"/>
<circle cx="1097.4" cy="720.8" r="5.1"/>
<circle cx="1097.4" cy="739.45" r="5.1"/>
<circle cx="1097.4" cy="749.93" r="5.1"/>
<circle cx="1097.4" cy="753.43" r="5.1"/>
<circle cx="1097.4" cy="756.92" r="5.1"/>
<circle cx="1097.4" cy="759.25" r="5.1"/>
<circle cx="1097.4" cy="765.08" r="5.1"/>
<circle cx="1097.4" cy="779.06" r="5.1"/>
<circle cx="1097.4" cy="783.72" r="5.1"/>
<circle cx="1097.4" cy="789.55" r="5.1"/>
<circle cx="1097.4" cy="791.88" r="5.1"/>
<circle cx="1097.4" cy="800.04" r="5.1"/>
<circle cx="1097.4" cy="803.53" r="5.1"/>
<circle cx="1097.4" cy="826.84" r="5.1"/>
<circle cx="1097.4" cy="751.68" r="5.1"/>
<circle cx="1097.4" cy="755.18" r="5.1"/>
<circle cx="1097.4" cy="758.09" r="5.1"/>
<circle cx="1097.4" cy="762.17" r="5.1"/>
<circle cx="1097.4" cy="781.39" r="5.1"/>
<circle cx="1097.4" cy="786.64" r="5.1"/>
<circle cx="1097.4" cy="790.72" r="5.1"/>
<circle cx="1097.4" cy="801.79" r="5.1"/>
</g>
<path d="M911.5 727.33V745.27M905.5 727.33H917.5M905.5 745.27H917.5M957.6 762.75V778.6M951.6 762.75H963.6M951.6 778.6H963.6M1050.8 728.96V744.11M1044.8 728.96H1056.8M1044.8 744.11H1056.8M1097.4 765.08V777.9M1091.4 765.08H1103.4M1091.4 777.9H1103.4" stroke="#000" stroke-width="1.5" fill="none"/>
<path d="M911.8 597.9V604.7M959.7 597.9V604.7" stroke="#000" stroke-width="2" fill="none"/>
<path d="M910.8 597.9H960.7" stroke="#000" stroke-width="2.6" fill="none"/>
<text x="923" y="594.23" font-size="23.6" text-anchor="middle" transform="rotate(90 923 582.1)" stroke="#000" stroke-width="0.45" style="font-family:'DejaVu Sans',sans-serif">*</text><text x="935.5" y="594.23" font-size="23.6" text-anchor="middle" transform="rotate(90 935.5 582.1)" stroke="#000" stroke-width="0.45" style="font-family:'DejaVu Sans',sans-serif">*</text><text x="948" y="594.23" font-size="23.6" text-anchor="middle" transform="rotate(90 948 582.1)" stroke="#000" stroke-width="0.45" style="font-family:'DejaVu Sans',sans-serif">*</text>
<path d="M1050.7 622.4V629.2M1098.3 622.4V629.2" stroke="#000" stroke-width="2" fill="none"/>
<path d="M1049.7 622.4H1099.3" stroke="#000" stroke-width="2.6" fill="none"/>
<text x="1062.1" y="618.73" font-size="23.6" text-anchor="middle" transform="rotate(90 1062.1 606.6)" stroke="#000" stroke-width="0.45" style="font-family:'DejaVu Sans',sans-serif">*</text><text x="1074.6" y="618.73" font-size="23.6" text-anchor="middle" transform="rotate(90 1074.6 606.6)" stroke="#000" stroke-width="0.45" style="font-family:'DejaVu Sans',sans-serif">*</text><text x="1087.1" y="618.73" font-size="23.6" text-anchor="middle" transform="rotate(90 1087.1 606.6)" stroke="#000" stroke-width="0.45" style="font-family:'DejaVu Sans',sans-serif">*</text>
<text x="784.19" y="585.8" font-size="40" textLength="28.29" lengthAdjust="spacingAndGlyphs" stroke="#000" stroke-width="0.3">D</text>
<text transform="translate(813.3 775.6) rotate(-90)" font-size="27.5" stroke="#000" stroke-width="0.3" text-anchor="middle" textLength="218" lengthAdjust="spacingAndGlyphs">Cystathionine (10<tspan font-size="16" dy="-9.5">-3</tspan><tspan dy="9.5">)</tspan></text>
<text x="934.3" y="980.6" font-size="25" text-anchor="middle" textLength="84" lengthAdjust="spacingAndGlyphs" stroke="#000" stroke-width="0.3">Control</text>
<text x="1074.8" y="980.6" font-size="25" text-anchor="middle" textLength="66" lengthAdjust="spacingAndGlyphs" stroke="#000" stroke-width="0.3">Stress</text>
<g shape-rendering="crispEdges">
<rect x="1284.9" y="718.1" width="40.2" height="226.6" fill="#f8bb80"/>
<rect x="1333.1" y="734.2" width="40.3" height="210.5" fill="#0b7ea4"/>
<rect x="1428.6" y="706.9" width="40.6" height="237.8" fill="#f8bb80"/>
<rect x="1476.9" y="725.8" width="39.9" height="218.9" fill="#0b7ea4"/>
</g>
<path d="M1281 600.2V944.7M1273.8 944.7H1520.3M1273.8 600.2H1281M1273.8 638.48H1281M1273.8 676.76H1281M1273.8 715.03H1281M1273.8 753.31H1281M1273.8 791.59H1281M1273.8 829.87H1281M1273.8 868.14H1281M1273.8 906.42H1281" stroke="#7e7f83" stroke-width="1.8" fill="none"/>
<text x="1266.7" y="609.2" font-size="25" text-anchor="end" textLength="32.32" lengthAdjust="spacingAndGlyphs" stroke="#000" stroke-width="0.3">4.5</text>
<text x="1266.7" y="647.48" font-size="25" text-anchor="end" textLength="32.32" lengthAdjust="spacingAndGlyphs" stroke="#000" stroke-width="0.3">4.0</text>
<text x="1266.7" y="685.76" font-size="25" text-anchor="end" textLength="32.32" lengthAdjust="spacingAndGlyphs" stroke="#000" stroke-width="0.3">3.5</text>
<text x="1266.7" y="724.03" font-size="25" text-anchor="end" textLength="32.32" lengthAdjust="spacingAndGlyphs" stroke="#000" stroke-width="0.3">3.0</text>
<text x="1266.7" y="762.31" font-size="25" text-anchor="end" textLength="32.32" lengthAdjust="spacingAndGlyphs" stroke="#000" stroke-width="0.3">2.5</text>
<text x="1266.7" y="800.59" font-size="25" text-anchor="end" textLength="32.32" lengthAdjust="spacingAndGlyphs" stroke="#000" stroke-width="0.3">2.0</text>
<text x="1266.7" y="838.87" font-size="25" text-anchor="end" textLength="32.32" lengthAdjust="spacingAndGlyphs" stroke="#000" stroke-width="0.3">1.5</text>
<text x="1266.7" y="877.14" font-size="25" text-anchor="end" textLength="32.32" lengthAdjust="spacingAndGlyphs" stroke="#000" stroke-width="0.3">1.0</text>
<text x="1266.7" y="915.42" font-size="25" text-anchor="end" textLength="32.32" lengthAdjust="spacingAndGlyphs" stroke="#000" stroke-width="0.3">0.5</text>
<text x="1266.7" y="953.7" font-size="25" text-anchor="end" textLength="12.93" lengthAdjust="spacingAndGlyphs" stroke="#000" stroke-width="0.3">0</text>
<g fill="#15151c" fill-opacity="0.68">
<circle cx="1305" cy="649.97" r="5.1"/>
<circle cx="1305" cy="658.42" r="5.1"/>
<circle cx="1305" cy="661.33" r="5.1"/>
<circle cx="1305" cy="667.89" r="5.1"/>
<circle cx="1305" cy="676.93" r="5.1"/>
<circle cx="1305" cy="681.73" r="5.1"/>
<circle cx="1305" cy="691.94" r="5.1"/>
<circle cx="1305" cy="697.76" r="5.1"/>
<circle cx="1305" cy="698.49" r="5.1"/>
<circle cx="1305" cy="702.14" r="5.1"/>
<circle cx="1305" cy="714.52" r="5.1"/>
<circle cx="1305" cy="726.91" r="5.1"/>
<circle cx="1305" cy="730.55" r="5.1"/>
<circle cx="1305" cy="733.47" r="5.1"/>
<circle cx="1305" cy="737.84" r="5.1"/>
<circle cx="1305" cy="742.21" r="5.1"/>
<circle cx="1305" cy="746.58" r="5.1"/>
<circle cx="1305" cy="750.96" r="5.1"/>
<circle cx="1305" cy="753.87" r="5.1"/>
<circle cx="1305" cy="758.24" r="5.1"/>
<circle cx="1305" cy="761.89" r="5.1"/>
<circle cx="1305" cy="777.92" r="5.1"/>
<circle cx="1305" cy="782.29" r="5.1"/>
<circle cx="1305" cy="659.87" r="5.1"/>
<circle cx="1305" cy="664.61" r="5.1"/>
<circle cx="1305" cy="679.33" r="5.1"/>
<circle cx="1305" cy="694.85" r="5.1"/>
<circle cx="1305" cy="700.31" r="5.1"/>
<circle cx="1305" cy="728.73" r="5.1"/>
<circle cx="1305" cy="732.01" r="5.1"/>
<circle cx="1305" cy="735.65" r="5.1"/>
<circle cx="1305" cy="740.03" r="5.1"/>
<circle cx="1305" cy="744.4" r="5.1"/>
<circle cx="1305" cy="748.77" r="5.1"/>
<circle cx="1305" cy="752.41" r="5.1"/>
<circle cx="1305" cy="756.06" r="5.1"/>
<circle cx="1305" cy="760.06" r="5.1"/>
<circle cx="1305" cy="780.1" r="5.1"/>
<circle cx="1352.8" cy="687.85" r="5.1"/>
<circle cx="1352.8" cy="707.24" r="5.1"/>
<circle cx="1352.8" cy="709.42" r="5.1"/>
<circle cx="1352.8" cy="711.61" r="5.1"/>
<circle cx="1352.8" cy="715.98" r="5.1"/>
<circle cx="1352.8" cy="723.27" r="5.1"/>
<circle cx="1352.8" cy="737.84" r="5.1"/>
<circle cx="1352.8" cy="740.75" r="5.1"/>
<circle cx="1352.8" cy="744.4" r="5.1"/>
<circle cx="1352.8" cy="756.79" r="5.1"/>
<circle cx="1352.8" cy="766.26" r="5.1"/>
<circle cx="1352.8" cy="771.36" r="5.1"/>
<circle cx="1352.8" cy="708.33" r="5.1"/>
<circle cx="1352.8" cy="710.52" r="5.1"/>
<circle cx="1352.8" cy="713.79" r="5.1"/>
<circle cx="1352.8" cy="719.62" r="5.1"/>
<circle cx="1352.8" cy="739.3" r="5.1"/>
<circle cx="1352.8" cy="742.58" r="5.1"/>
<circle cx="1352.8" cy="768.81" r="5.1"/>
<circle cx="1448.5" cy="640.93" r="5.1"/>
<circle cx="1448.5" cy="661.33" r="5.1"/>
<circle cx="1448.5" cy="663.52" r="5.1"/>
<circle cx="1448.5" cy="670.8" r="5.1"/>
<circle cx="1448.5" cy="672.26" r="5.1"/>
<circle cx="1448.5" cy="683.19" r="5.1"/>
<circle cx="1448.5" cy="685.38" r="5.1"/>
<circle cx="1448.5" cy="693.39" r="5.1"/>
<circle cx="1448.5" cy="702.14" r="5.1"/>
<circle cx="1448.5" cy="705.78" r="5.1"/>
<circle cx="1448.5" cy="709.42" r="5.1"/>
<circle cx="1448.5" cy="713.07" r="5.1"/>
<circle cx="1448.5" cy="717.44" r="5.1"/>
<circle cx="1448.5" cy="721.08" r="5.1"/>
<circle cx="1448.5" cy="724.72" r="5.1"/>
<circle cx="1448.5" cy="739.01" r="5.1"/>
<circle cx="1448.5" cy="757.51" r="5.1"/>
<circle cx="1448.5" cy="769.17" r="5.1"/>
<circle cx="1448.5" cy="662.42" r="5.1"/>
<circle cx="1448.5" cy="667.16" r="5.1"/>
<circle cx="1448.5" cy="684.28" r="5.1"/>
<circle cx="1448.5" cy="703.96" r="5.1"/>
<circle cx="1448.5" cy="707.6" r="5.1"/>
<circle cx="1448.5" cy="711.24" r="5.1"/>
<circle cx="1448.5" cy="715.25" r="5.1"/>
<circle cx="1448.5" cy="719.26" r="5.1"/>
<circle cx="1448.5" cy="722.9" r="5.1"/>
<circle cx="1496.6" cy="668.62" r="5.1"/>
<circle cx="1496.6" cy="681.3" r="5.1"/>
<circle cx="1496.6" cy="691.21" r="5.1"/>
<circle cx="1496.6" cy="703.59" r="5.1"/>
<circle cx="1496.6" cy="711.61" r="5.1"/>
<circle cx="1496.6" cy="714.52" r="5.1"/>
<circle cx="1496.6" cy="724.72" r="5.1"/>
<circle cx="1496.6" cy="727.64" r="5.1"/>
<circle cx="1496.6" cy="732.01" r="5.1"/>
<circle cx="1496.6" cy="737.84" r="5.1"/>
<circle cx="1496.6" cy="742.21" r="5.1"/>
<circle cx="1496.6" cy="746.58" r="5.1"/>
<circle cx="1496.6" cy="750.96" r="5.1"/>
<circle cx="1496.6" cy="753.87" r="5.1"/>
<circle cx="1496.6" cy="762.91" r="5.1"/>
<circle cx="1496.6" cy="713.07" r="5.1"/>
<circle cx="1496.6" cy="726.18" r="5.1"/>
<circle cx="1496.6" cy="729.83" r="5.1"/>
<circle cx="1496.6" cy="734.93" r="5.1"/>
<circle cx="1496.6" cy="740.03" r="5.1"/>
<circle cx="1496.6" cy="744.4" r="5.1"/>
<circle cx="1496.6" cy="748.77" r="5.1"/>
<circle cx="1496.6" cy="752.41" r="5.1"/>
</g>
<path d="M1305 710.88V725.02M1299 710.88H1311M1299 725.02H1311M1352.8 729.53V739.3M1346.8 729.53H1358.8M1346.8 739.3H1358.8M1448.5 701.41V712.77M1442.5 701.41H1454.5M1442.5 712.77H1454.5M1496.6 720.64V731.72M1490.6 720.64H1502.6M1490.6 731.72H1502.6" stroke="#000" stroke-width="1.5" fill="none"/>
<path d="M1304.8 622.9V629.7M1352.8 622.9V629.7" stroke="#000" stroke-width="2" fill="none"/>
<path d="M1303.8 622.9H1353.8" stroke="#000" stroke-width="2.6" fill="none"/>
<text x="1322.75" y="618.13" font-size="23.6" text-anchor="middle" transform="rotate(90 1322.75 606)" stroke="#000" stroke-width="0.45" style="font-family:'DejaVu Sans',sans-serif">*</text><text x="1335.25" y="618.13" font-size="23.6" text-anchor="middle" transform="rotate(90 1335.25 606)" stroke="#000" stroke-width="0.45" style="font-family:'DejaVu Sans',sans-serif">*</text>
<path d="M1448.9 612V618.8M1497.2 612V618.8" stroke="#000" stroke-width="2" fill="none"/>
<path d="M1447.9 612H1498.2" stroke="#000" stroke-width="2.6" fill="none"/>
<text x="1466.75" y="607.63" font-size="23.6" text-anchor="middle" transform="rotate(90 1466.75 595.5)" stroke="#000" stroke-width="0.45" style="font-family:'DejaVu Sans',sans-serif">*</text><text x="1479.25" y="607.63" font-size="23.6" text-anchor="middle" transform="rotate(90 1479.25 595.5)" stroke="#000" stroke-width="0.45" style="font-family:'DejaVu Sans',sans-serif">*</text>
<text x="1178.46" y="585.6" font-size="40" textLength="20.67" lengthAdjust="spacingAndGlyphs" stroke="#000" stroke-width="0.3">E</text>
<text transform="translate(1206.8 774) rotate(-90)" font-size="27.5" stroke="#000" stroke-width="0.3" text-anchor="middle" textLength="222" lengthAdjust="spacingAndGlyphs">Phenylalanine (10<tspan font-size="16" dy="-9.5">-3</tspan><tspan dy="9.5">)</tspan></text>
<text x="1330.3" y="979.7" font-size="25" text-anchor="middle" textLength="84" lengthAdjust="spacingAndGlyphs" stroke="#000" stroke-width="0.3">Control</text>
<text x="1472" y="979.7" font-size="25" text-anchor="middle" textLength="66" lengthAdjust="spacingAndGlyphs" stroke="#000" stroke-width="0.3">Stress</text>
<rect x="1544.7" y="617.7" width="19.2" height="19.2" fill="#f8bb80"/>
<rect x="1544.7" y="653.5" width="19.2" height="19.2" fill="#0b7ea4"/>
<text x="1570.7" y="635.7" font-size="31" textLength="43" lengthAdjust="spacingAndGlyphs" stroke="#000" stroke-width="0.3">WT</text>
<text x="1570.7" y="671.7" font-size="31" textLength="137" lengthAdjust="spacingAndGlyphs" stroke="#000" stroke-width="0.3">Ndufs4<tspan font-size="17.5" dy="-11.5">GT/GT</tspan><tspan dy="11.5"></tspan></text>
<g shape-rendering="crispEdges">
<rect x="891.8" y="1165" width="40.2" height="236.3" fill="#f8bb80"/>
<rect x="939.8" y="1152.8" width="40.2" height="248.5" fill="#0b7ea4"/>
<rect x="1035.1" y="1148.9" width="40.2" height="252.4" fill="#f8bb80"/>
<rect x="1083.1" y="1139.4" width="40.2" height="261.9" fill="#0b7ea4"/>
</g>
<path d="M888.7 1057V1401.3M881.5 1401.3H1127M881.5 1057H888.7M881.5 1100.04H888.7M881.5 1143.08H888.7M881.5 1186.11H888.7M881.5 1229.15H888.7M881.5 1272.19H888.7M881.5 1315.22H888.7M881.5 1358.26H888.7" stroke="#7e7f83" stroke-width="1.8" fill="none"/>
<text x="873.6" y="1066" font-size="25" text-anchor="end" textLength="32.32" lengthAdjust="spacingAndGlyphs" stroke="#000" stroke-width="0.3">4.0</text>
<text x="873.6" y="1109.04" font-size="25" text-anchor="end" textLength="32.32" lengthAdjust="spacingAndGlyphs" stroke="#000" stroke-width="0.3">3.5</text>
<text x="873.6" y="1152.08" font-size="25" text-anchor="end" textLength="32.32" lengthAdjust="spacingAndGlyphs" stroke="#000" stroke-width="0.3">3.0</text>
<text x="873.6" y="1195.11" font-size="25" text-anchor="end" textLength="32.32" lengthAdjust="spacingAndGlyphs" stroke="#000" stroke-width="0.3">2.5</text>
<text x="873.6" y="1238.15" font-size="25" text-anchor="end" textLength="32.32" lengthAdjust="spacingAndGlyphs" stroke="#000" stroke-width="0.3">2.0</text>
<text x="873.6" y="1281.19" font-size="25" text-anchor="end" textLength="32.32" lengthAdjust="spacingAndGlyphs" stroke="#000" stroke-width="0.3">1.5</text>
<text x="873.6" y="1324.22" font-size="25" text-anchor="end" textLength="32.32" lengthAdjust="spacingAndGlyphs" stroke="#000" stroke-width="0.3">1.0</text>
<text x="873.6" y="1367.26" font-size="25" text-anchor="end" textLength="32.32" lengthAdjust="spacingAndGlyphs" stroke="#000" stroke-width="0.3">0.5</text>
<text x="873.6" y="1410.3" font-size="25" text-anchor="end" textLength="12.93" lengthAdjust="spacingAndGlyphs" stroke="#000" stroke-width="0.3">0</text>
<g fill="#15151c" fill-opacity="0.68">
<circle cx="911.6" cy="1122.17" r="5.1"/>
<circle cx="911.6" cy="1139.22" r="5.1"/>
<circle cx="911.6" cy="1141.41" r="5.1"/>
<circle cx="911.6" cy="1145.78" r="5.1"/>
<circle cx="911.6" cy="1150.15" r="5.1"/>
<circle cx="911.6" cy="1153.79" r="5.1"/>
<circle cx="911.6" cy="1156.71" r="5.1"/>
<circle cx="911.6" cy="1160.35" r="5.1"/>
<circle cx="911.6" cy="1163.27" r="5.1"/>
<circle cx="911.6" cy="1165.45" r="5.1"/>
<circle cx="911.6" cy="1167.64" r="5.1"/>
<circle cx="911.6" cy="1170.55" r="5.1"/>
<circle cx="911.6" cy="1173.47" r="5.1"/>
<circle cx="911.6" cy="1175.65" r="5.1"/>
<circle cx="911.6" cy="1178.57" r="5.1"/>
<circle cx="911.6" cy="1182.21" r="5.1"/>
<circle cx="911.6" cy="1194.6" r="5.1"/>
<circle cx="911.6" cy="1204.36" r="5.1"/>
<circle cx="911.6" cy="1140.31" r="5.1"/>
<circle cx="911.6" cy="1143.59" r="5.1"/>
<circle cx="911.6" cy="1147.97" r="5.1"/>
<circle cx="911.6" cy="1151.97" r="5.1"/>
<circle cx="911.6" cy="1155.25" r="5.1"/>
<circle cx="911.6" cy="1158.53" r="5.1"/>
<circle cx="911.6" cy="1161.81" r="5.1"/>
<circle cx="911.6" cy="1164.36" r="5.1"/>
<circle cx="911.6" cy="1166.55" r="5.1"/>
<circle cx="911.6" cy="1169.1" r="5.1"/>
<circle cx="911.6" cy="1172.01" r="5.1"/>
<circle cx="911.6" cy="1174.56" r="5.1"/>
<circle cx="911.6" cy="1177.11" r="5.1"/>
<circle cx="911.6" cy="1180.39" r="5.1"/>
<circle cx="959.1" cy="1131.21" r="5.1"/>
<circle cx="959.1" cy="1134.12" r="5.1"/>
<circle cx="959.1" cy="1137.04" r="5.1"/>
<circle cx="959.1" cy="1139.95" r="5.1"/>
<circle cx="959.1" cy="1142.87" r="5.1"/>
<circle cx="959.1" cy="1145.78" r="5.1"/>
<circle cx="959.1" cy="1149.42" r="5.1"/>
<circle cx="959.1" cy="1153.07" r="5.1"/>
<circle cx="959.1" cy="1157.44" r="5.1"/>
<circle cx="959.1" cy="1166.91" r="5.1"/>
<circle cx="959.1" cy="1172.01" r="5.1"/>
<circle cx="959.1" cy="1174.2" r="5.1"/>
<circle cx="959.1" cy="1132.66" r="5.1"/>
<circle cx="959.1" cy="1135.58" r="5.1"/>
<circle cx="959.1" cy="1138.49" r="5.1"/>
<circle cx="959.1" cy="1141.41" r="5.1"/>
<circle cx="959.1" cy="1144.32" r="5.1"/>
<circle cx="959.1" cy="1147.6" r="5.1"/>
<circle cx="959.1" cy="1151.24" r="5.1"/>
<circle cx="959.1" cy="1155.25" r="5.1"/>
<circle cx="959.1" cy="1169.46" r="5.1"/>
<circle cx="959.1" cy="1173.1" r="5.1"/>
<circle cx="1054.9" cy="1111.82" r="5.1"/>
<circle cx="1054.9" cy="1119.55" r="5.1"/>
<circle cx="1054.9" cy="1123.19" r="5.1"/>
<circle cx="1054.9" cy="1125.38" r="5.1"/>
<circle cx="1054.9" cy="1134.85" r="5.1"/>
<circle cx="1054.9" cy="1142.87" r="5.1"/>
<circle cx="1054.9" cy="1147.24" r="5.1"/>
<circle cx="1054.9" cy="1151.61" r="5.1"/>
<circle cx="1054.9" cy="1155.98" r="5.1"/>
<circle cx="1054.9" cy="1160.35" r="5.1"/>
<circle cx="1054.9" cy="1165.45" r="5.1"/>
<circle cx="1054.9" cy="1169.1" r="5.1"/>
<circle cx="1054.9" cy="1174.2" r="5.1"/>
<circle cx="1054.9" cy="1177.11" r="5.1"/>
<circle cx="1054.9" cy="1186.58" r="5.1"/>
<circle cx="1054.9" cy="1121.37" r="5.1"/>
<circle cx="1054.9" cy="1124.28" r="5.1"/>
<circle cx="1054.9" cy="1145.05" r="5.1"/>
<circle cx="1054.9" cy="1149.42" r="5.1"/>
<circle cx="1054.9" cy="1153.79" r="5.1"/>
<circle cx="1054.9" cy="1158.17" r="5.1"/>
<circle cx="1054.9" cy="1162.9" r="5.1"/>
<circle cx="1054.9" cy="1167.27" r="5.1"/>
<circle cx="1054.9" cy="1171.65" r="5.1"/>
<circle cx="1054.9" cy="1175.65" r="5.1"/>
<circle cx="1103" cy="1089.38" r="5.1"/>
<circle cx="1103" cy="1108.91" r="5.1"/>
<circle cx="1103" cy="1121.01" r="5.1"/>
<circle cx="1103" cy="1123.19" r="5.1"/>
<circle cx="1103" cy="1125.38" r="5.1"/>
<circle cx="1103" cy="1130.48" r="5.1"/>
<circle cx="1103" cy="1135.58" r="5.1"/>
<circle cx="1103" cy="1139.95" r="5.1"/>
<circle cx="1103" cy="1144.32" r="5.1"/>
<circle cx="1103" cy="1148.69" r="5.1"/>
<circle cx="1103" cy="1153.07" r="5.1"/>
<circle cx="1103" cy="1160.35" r="5.1"/>
<circle cx="1103" cy="1174.49" r="5.1"/>
<circle cx="1103" cy="1183.38" r="5.1"/>
<circle cx="1103" cy="1122.1" r="5.1"/>
<circle cx="1103" cy="1124.28" r="5.1"/>
<circle cx="1103" cy="1127.93" r="5.1"/>
<circle cx="1103" cy="1133.03" r="5.1"/>
<circle cx="1103" cy="1137.76" r="5.1"/>
<circle cx="1103" cy="1142.14" r="5.1"/>
<circle cx="1103" cy="1146.51" r="5.1"/>
<circle cx="1103" cy="1150.88" r="5.1"/>
<circle cx="1103" cy="1156.71" r="5.1"/>
</g>
<path d="M911.6 1161.52V1167.93M905.6 1161.52H917.6M905.6 1167.93H917.6M959.1 1149.42V1155.98M953.1 1149.42H965.1M953.1 1155.98H965.1M1054.9 1145.05V1152.34M1048.9 1145.05H1060.9M1048.9 1152.34H1060.9M1103 1135.29V1143.59M1097 1135.29H1109M1097 1143.59H1109" stroke="#000" stroke-width="1.5" fill="none"/>
<path d="M911.1 1093.4V1100.2M959.3 1093.4V1100.2" stroke="#000" stroke-width="2" fill="none"/>
<path d="M910.1 1093.4H960.3" stroke="#000" stroke-width="2.6" fill="none"/>
<text x="928.75" y="1088.63" font-size="23.6" text-anchor="middle" transform="rotate(90 928.75 1076.5)" stroke="#000" stroke-width="0.45" style="font-family:'DejaVu Sans',sans-serif">*</text><text x="941.25" y="1088.63" font-size="23.6" text-anchor="middle" transform="rotate(90 941.25 1076.5)" stroke="#000" stroke-width="0.45" style="font-family:'DejaVu Sans',sans-serif">*</text>
<path d="M1054.9 1067.4V1074.2M1103 1067.4V1074.2" stroke="#000" stroke-width="2" fill="none"/>
<path d="M1053.9 1067.4H1104" stroke="#000" stroke-width="2.6" fill="none"/>
<text x="1072.45" y="1061.83" font-size="23.6" text-anchor="middle" transform="rotate(90 1072.45 1049.7)" stroke="#000" stroke-width="0.45" style="font-family:'DejaVu Sans',sans-serif">*</text><text x="1084.95" y="1061.83" font-size="23.6" text-anchor="middle" transform="rotate(90 1084.95 1049.7)" stroke="#000" stroke-width="0.45" style="font-family:'DejaVu Sans',sans-serif">*</text>
<path d="M937.6 1029V1014.9M1078.7 1029V1014.9" stroke="#000" stroke-width="1.3" fill="none"/>
<path d="M936.95 1014.9H1079.35M915.5 1029H961.3M1055.6 1029H1101.9" stroke="#000" stroke-width="2.2" fill="none"/>
<text x="995.8" y="1011.93" font-size="23.6" text-anchor="middle" transform="rotate(90 995.8 999.8)" stroke="#000" stroke-width="0.45" style="font-family:'DejaVu Sans',sans-serif">*</text><text x="1008.3" y="1011.93" font-size="23.6" text-anchor="middle" transform="rotate(90 1008.3 999.8)" stroke="#000" stroke-width="0.45" style="font-family:'DejaVu Sans',sans-serif">*</text><text x="1020.8" y="1011.93" font-size="23.6" text-anchor="middle" transform="rotate(90 1020.8 999.8)" stroke="#000" stroke-width="0.45" style="font-family:'DejaVu Sans',sans-serif">*</text>
<text x="784.8" y="1040.7" font-size="40" textLength="18.62" lengthAdjust="spacingAndGlyphs" stroke="#000" stroke-width="0.3">F</text>
<text transform="translate(813.9 1230) rotate(-90)" font-size="27.5" stroke="#000" stroke-width="0.3" text-anchor="middle" textLength="132" lengthAdjust="spacingAndGlyphs">Serine (10<tspan font-size="16" dy="-9.5">-2</tspan><tspan dy="9.5">)</tspan></text>
<text x="936.4" y="1436.4" font-size="25" text-anchor="middle" textLength="84" lengthAdjust="spacingAndGlyphs" stroke="#000" stroke-width="0.3">Control</text>
<text x="1078.7" y="1436.4" font-size="25" text-anchor="middle" textLength="66" lengthAdjust="spacingAndGlyphs" stroke="#000" stroke-width="0.3">Stress</text>
<g shape-rendering="crispEdges">
<rect x="1284.9" y="1188.7" width="38.8" height="212.3" fill="#f8bb80"/>
<rect x="1331.4" y="1184.5" width="38.5" height="216.5" fill="#0b7ea4"/>
<rect x="1423.7" y="1163.5" width="38.9" height="237.5" fill="#f8bb80"/>
<rect x="1470.2" y="1177.1" width="38.5" height="223.9" fill="#0b7ea4"/>
</g>
<path d="M1281 1056.5V1401M1273.8 1401H1511.5M1273.8 1056.5H1281M1273.8 1105.71H1281M1273.8 1154.93H1281M1273.8 1204.14H1281M1273.8 1253.36H1281M1273.8 1302.57H1281M1273.8 1351.79H1281" stroke="#7e7f83" stroke-width="1.8" fill="none"/>
<text x="1266.7" y="1065.5" font-size="25" text-anchor="end" textLength="32.32" lengthAdjust="spacingAndGlyphs" stroke="#000" stroke-width="0.3">1.4</text>
<text x="1266.7" y="1114.71" font-size="25" text-anchor="end" textLength="32.32" lengthAdjust="spacingAndGlyphs" stroke="#000" stroke-width="0.3">1.2</text>
<text x="1266.7" y="1163.93" font-size="25" text-anchor="end" textLength="32.32" lengthAdjust="spacingAndGlyphs" stroke="#000" stroke-width="0.3">1.0</text>
<text x="1266.7" y="1213.14" font-size="25" text-anchor="end" textLength="32.32" lengthAdjust="spacingAndGlyphs" stroke="#000" stroke-width="0.3">0.8</text>
<text x="1266.7" y="1262.36" font-size="25" text-anchor="end" textLength="32.32" lengthAdjust="spacingAndGlyphs" stroke="#000" stroke-width="0.3">0.6</text>
<text x="1266.7" y="1311.57" font-size="25" text-anchor="end" textLength="32.32" lengthAdjust="spacingAndGlyphs" stroke="#000" stroke-width="0.3">0.4</text>
<text x="1266.7" y="1360.79" font-size="25" text-anchor="end" textLength="32.32" lengthAdjust="spacingAndGlyphs" stroke="#000" stroke-width="0.3">0.2</text>
<text x="1266.7" y="1410" font-size="25" text-anchor="end" textLength="12.93" lengthAdjust="spacingAndGlyphs" stroke="#000" stroke-width="0.3">0</text>
<g fill="#15151c" fill-opacity="0.68">
<circle cx="1304.1" cy="1109.58" r="5.1"/>
<circle cx="1304.1" cy="1128.53" r="5.1"/>
<circle cx="1304.1" cy="1147.76" r="5.1"/>
<circle cx="1304.1" cy="1150.68" r="5.1"/>
<circle cx="1304.1" cy="1166.71" r="5.1"/>
<circle cx="1304.1" cy="1168.17" r="5.1"/>
<circle cx="1304.1" cy="1176.91" r="5.1"/>
<circle cx="1304.1" cy="1180.55" r="5.1"/>
<circle cx="1304.1" cy="1188.57" r="5.1"/>
<circle cx="1304.1" cy="1193.67" r="5.1"/>
<circle cx="1304.1" cy="1199.5" r="5.1"/>
<circle cx="1304.1" cy="1205.33" r="5.1"/>
<circle cx="1304.1" cy="1210.43" r="5.1"/>
<circle cx="1304.1" cy="1211.89" r="5.1"/>
<circle cx="1304.1" cy="1218.44" r="5.1"/>
<circle cx="1304.1" cy="1222.09" r="5.1"/>
<circle cx="1304.1" cy="1225" r="5.1"/>
<circle cx="1304.1" cy="1149.22" r="5.1"/>
<circle cx="1304.1" cy="1178.73" r="5.1"/>
<circle cx="1304.1" cy="1191.12" r="5.1"/>
<circle cx="1304.1" cy="1196.58" r="5.1"/>
<circle cx="1304.1" cy="1202.41" r="5.1"/>
<circle cx="1304.1" cy="1207.88" r="5.1"/>
<circle cx="1304.1" cy="1215.16" r="5.1"/>
<circle cx="1304.1" cy="1220.27" r="5.1"/>
<circle cx="1304.1" cy="1223.54" r="5.1"/>
<circle cx="1350.6" cy="1140.48" r="5.1"/>
<circle cx="1350.6" cy="1155.78" r="5.1"/>
<circle cx="1350.6" cy="1159.42" r="5.1"/>
<circle cx="1350.6" cy="1163.07" r="5.1"/>
<circle cx="1350.6" cy="1165.98" r="5.1"/>
<circle cx="1350.6" cy="1168.17" r="5.1"/>
<circle cx="1350.6" cy="1180.55" r="5.1"/>
<circle cx="1350.6" cy="1184.93" r="5.1"/>
<circle cx="1350.6" cy="1192.21" r="5.1"/>
<circle cx="1350.6" cy="1196.58" r="5.1"/>
<circle cx="1350.6" cy="1200.96" r="5.1"/>
<circle cx="1350.6" cy="1208.24" r="5.1"/>
<circle cx="1350.6" cy="1218.44" r="5.1"/>
<circle cx="1350.6" cy="1221.36" r="5.1"/>
<circle cx="1350.6" cy="1157.6" r="5.1"/>
<circle cx="1350.6" cy="1161.24" r="5.1"/>
<circle cx="1350.6" cy="1164.52" r="5.1"/>
<circle cx="1350.6" cy="1167.07" r="5.1"/>
<circle cx="1350.6" cy="1182.74" r="5.1"/>
<circle cx="1350.6" cy="1188.57" r="5.1"/>
<circle cx="1350.6" cy="1194.4" r="5.1"/>
<circle cx="1350.6" cy="1198.77" r="5.1"/>
<circle cx="1350.6" cy="1204.6" r="5.1"/>
<circle cx="1350.6" cy="1219.9" r="5.1"/>
<circle cx="1442.8" cy="1097.92" r="5.1"/>
<circle cx="1442.8" cy="1110.6" r="5.1"/>
<circle cx="1442.8" cy="1118.62" r="5.1"/>
<circle cx="1442.8" cy="1122.26" r="5.1"/>
<circle cx="1442.8" cy="1139.02" r="5.1"/>
<circle cx="1442.8" cy="1142.66" r="5.1"/>
<circle cx="1442.8" cy="1146.31" r="5.1"/>
<circle cx="1442.8" cy="1149.22" r="5.1"/>
<circle cx="1442.8" cy="1152.14" r="5.1"/>
<circle cx="1442.8" cy="1155.78" r="5.1"/>
<circle cx="1442.8" cy="1163.07" r="5.1"/>
<circle cx="1442.8" cy="1168.9" r="5.1"/>
<circle cx="1442.8" cy="1174.72" r="5.1"/>
<circle cx="1442.8" cy="1180.55" r="5.1"/>
<circle cx="1442.8" cy="1186.38" r="5.1"/>
<circle cx="1442.8" cy="1192.21" r="5.1"/>
<circle cx="1442.8" cy="1201.68" r="5.1"/>
<circle cx="1442.8" cy="1203.87" r="5.1"/>
<circle cx="1442.8" cy="1208.24" r="5.1"/>
<circle cx="1442.8" cy="1120.44" r="5.1"/>
<circle cx="1442.8" cy="1140.84" r="5.1"/>
<circle cx="1442.8" cy="1144.49" r="5.1"/>
<circle cx="1442.8" cy="1147.76" r="5.1"/>
<circle cx="1442.8" cy="1150.68" r="5.1"/>
<circle cx="1442.8" cy="1153.96" r="5.1"/>
<circle cx="1442.8" cy="1159.42" r="5.1"/>
<circle cx="1442.8" cy="1165.98" r="5.1"/>
<circle cx="1442.8" cy="1171.81" r="5.1"/>
<circle cx="1442.8" cy="1177.64" r="5.1"/>
<circle cx="1442.8" cy="1183.47" r="5.1"/>
<circle cx="1442.8" cy="1189.3" r="5.1"/>
<circle cx="1442.8" cy="1202.78" r="5.1"/>
<circle cx="1442.8" cy="1206.06" r="5.1"/>
<circle cx="1489" cy="1133.19" r="5.1"/>
<circle cx="1489" cy="1137.56" r="5.1"/>
<circle cx="1489" cy="1149.95" r="5.1"/>
<circle cx="1489" cy="1152.87" r="5.1"/>
<circle cx="1489" cy="1158.69" r="5.1"/>
<circle cx="1489" cy="1164.52" r="5.1"/>
<circle cx="1489" cy="1170.35" r="5.1"/>
<circle cx="1489" cy="1174.72" r="5.1"/>
<circle cx="1489" cy="1179.1" r="5.1"/>
<circle cx="1489" cy="1184.93" r="5.1"/>
<circle cx="1489" cy="1190.75" r="5.1"/>
<circle cx="1489" cy="1196.58" r="5.1"/>
<circle cx="1489" cy="1200.96" r="5.1"/>
<circle cx="1489" cy="1205.33" r="5.1"/>
<circle cx="1489" cy="1135.38" r="5.1"/>
<circle cx="1489" cy="1151.41" r="5.1"/>
<circle cx="1489" cy="1155.78" r="5.1"/>
<circle cx="1489" cy="1161.61" r="5.1"/>
<circle cx="1489" cy="1167.44" r="5.1"/>
<circle cx="1489" cy="1172.54" r="5.1"/>
<circle cx="1489" cy="1176.91" r="5.1"/>
<circle cx="1489" cy="1182.01" r="5.1"/>
<circle cx="1489" cy="1187.84" r="5.1"/>
<circle cx="1489" cy="1193.67" r="5.1"/>
<circle cx="1489" cy="1198.77" r="5.1"/>
<circle cx="1489" cy="1203.14" r="5.1"/>
</g>
<path d="M1304.1 1182.74V1194.4M1298.1 1182.74H1310.1M1298.1 1194.4H1310.1M1350.6 1179.53V1189.3M1344.6 1179.53H1356.6M1344.6 1189.3H1356.6M1442.8 1157.97V1168.6M1436.8 1157.97H1448.8M1436.8 1168.6H1448.8M1489 1172.54V1181.28M1483 1172.54H1495M1483 1181.28H1495" stroke="#000" stroke-width="1.5" fill="none"/>
<path d="M1327.9 1075.3V1061.7M1467.8 1075.3V1061.7" stroke="#000" stroke-width="1.3" fill="none"/>
<path d="M1327.25 1061.7H1468.45M1304.5 1075.3H1350.6M1445.1 1075.3H1491.2" stroke="#000" stroke-width="2.2" fill="none"/>
<text x="1391.55" y="1056.93" font-size="23.6" text-anchor="middle" transform="rotate(90 1391.55 1044.8)" stroke="#000" stroke-width="0.45" style="font-family:'DejaVu Sans',sans-serif">*</text><text x="1404.05" y="1056.93" font-size="23.6" text-anchor="middle" transform="rotate(90 1404.05 1044.8)" stroke="#000" stroke-width="0.45" style="font-family:'DejaVu Sans',sans-serif">*</text>
<text x="1178.75" y="1040.5" font-size="40" textLength="27.05" lengthAdjust="spacingAndGlyphs" stroke="#000" stroke-width="0.3">G</text>
<text transform="translate(1206.8 1231.3) rotate(-90)" font-size="27.5" stroke="#000" stroke-width="0.3" text-anchor="middle" textLength="178" lengthAdjust="spacingAndGlyphs">Threonine (10<tspan font-size="16" dy="-9.5">-2</tspan><tspan dy="9.5">)</tspan></text>
<text x="1330.3" y="1436.7" font-size="25" text-anchor="middle" textLength="84" lengthAdjust="spacingAndGlyphs" stroke="#000" stroke-width="0.3">Control</text>
<text x="1472" y="1436.7" font-size="25" text-anchor="middle" textLength="66" lengthAdjust="spacingAndGlyphs" stroke="#000" stroke-width="0.3">Stress</text>
<rect x="1544.7" y="1061.7" width="19.2" height="19.2" fill="#f8bb80"/>
<rect x="1544.7" y="1097.3" width="19.2" height="19.2" fill="#0b7ea4"/>
<text x="1570.7" y="1079.7" font-size="31" textLength="43" lengthAdjust="spacingAndGlyphs" stroke="#000" stroke-width="0.3">WT</text>
<text x="1570.7" y="1115.4" font-size="31" textLength="137" lengthAdjust="spacingAndGlyphs" stroke="#000" stroke-width="0.3">Ndufs4<tspan font-size="17.5" dy="-11.5">GT/GT</tspan><tspan dy="11.5"></tspan></text>
<g shape-rendering="crispEdges">
<rect x="198.1" y="1615.1" width="39.2" height="236" fill="#f8bb80"/>
<rect x="245" y="1632.9" width="39" height="218.2" fill="#0b7ea4"/>
<rect x="338.2" y="1605.7" width="39.2" height="245.4" fill="#f8bb80"/>
<rect x="384.8" y="1622.8" width="39.2" height="228.3" fill="#0b7ea4"/>
</g>
<path d="M194.9 1506.6V1851.1M187.7 1851.1H428M187.7 1506.6H194.9M187.7 1555.81H194.9M187.7 1605.03H194.9M187.7 1654.24H194.9M187.7 1703.46H194.9M187.7 1752.67H194.9M187.7 1801.89H194.9" stroke="#7e7f83" stroke-width="1.8" fill="none"/>
<text x="180.9" y="1515.6" font-size="25" text-anchor="end" textLength="32.32" lengthAdjust="spacingAndGlyphs" stroke="#000" stroke-width="0.3">1.4</text>
<text x="180.9" y="1564.81" font-size="25" text-anchor="end" textLength="32.32" lengthAdjust="spacingAndGlyphs" stroke="#000" stroke-width="0.3">1.2</text>
<text x="180.9" y="1614.03" font-size="25" text-anchor="end" textLength="32.32" lengthAdjust="spacingAndGlyphs" stroke="#000" stroke-width="0.3">1.0</text>
<text x="180.9" y="1663.24" font-size="25" text-anchor="end" textLength="32.32" lengthAdjust="spacingAndGlyphs" stroke="#000" stroke-width="0.3">0.8</text>
<text x="180.9" y="1712.46" font-size="25" text-anchor="end" textLength="32.32" lengthAdjust="spacingAndGlyphs" stroke="#000" stroke-width="0.3">0.6</text>
<text x="180.9" y="1761.67" font-size="25" text-anchor="end" textLength="32.32" lengthAdjust="spacingAndGlyphs" stroke="#000" stroke-width="0.3">0.4</text>
<text x="180.9" y="1810.89" font-size="25" text-anchor="end" textLength="32.32" lengthAdjust="spacingAndGlyphs" stroke="#000" stroke-width="0.3">0.2</text>
<text x="180.9" y="1860.1" font-size="25" text-anchor="end" textLength="12.93" lengthAdjust="spacingAndGlyphs" stroke="#000" stroke-width="0.3">0</text>
<g fill="#15151c" fill-opacity="0.68">
<circle cx="217.5" cy="1559.35" r="5.1"/>
<circle cx="217.5" cy="1568.82" r="5.1"/>
<circle cx="217.5" cy="1579.02" r="5.1"/>
<circle cx="217.5" cy="1581.21" r="5.1"/>
<circle cx="217.5" cy="1582.66" r="5.1"/>
<circle cx="217.5" cy="1587.76" r="5.1"/>
<circle cx="217.5" cy="1595.78" r="5.1"/>
<circle cx="217.5" cy="1599.42" r="5.1"/>
<circle cx="217.5" cy="1604.52" r="5.1"/>
<circle cx="217.5" cy="1613.27" r="5.1"/>
<circle cx="217.5" cy="1618.37" r="5.1"/>
<circle cx="217.5" cy="1629.3" r="5.1"/>
<circle cx="217.5" cy="1632.94" r="5.1"/>
<circle cx="217.5" cy="1636.58" r="5.1"/>
<circle cx="217.5" cy="1640.96" r="5.1"/>
<circle cx="217.5" cy="1645.33" r="5.1"/>
<circle cx="217.5" cy="1649.7" r="5.1"/>
<circle cx="217.5" cy="1651.89" r="5.1"/>
<circle cx="217.5" cy="1669.37" r="5.1"/>
<circle cx="217.5" cy="1673.02" r="5.1"/>
<circle cx="217.5" cy="1580.11" r="5.1"/>
<circle cx="217.5" cy="1585.21" r="5.1"/>
<circle cx="217.5" cy="1597.6" r="5.1"/>
<circle cx="217.5" cy="1601.97" r="5.1"/>
<circle cx="217.5" cy="1615.82" r="5.1"/>
<circle cx="217.5" cy="1631.12" r="5.1"/>
<circle cx="217.5" cy="1634.76" r="5.1"/>
<circle cx="217.5" cy="1638.77" r="5.1"/>
<circle cx="217.5" cy="1643.14" r="5.1"/>
<circle cx="217.5" cy="1647.51" r="5.1"/>
<circle cx="217.5" cy="1650.79" r="5.1"/>
<circle cx="217.5" cy="1671.19" r="5.1"/>
<circle cx="264.1" cy="1593.3" r="5.1"/>
<circle cx="264.1" cy="1599.42" r="5.1"/>
<circle cx="264.1" cy="1604.52" r="5.1"/>
<circle cx="264.1" cy="1608.17" r="5.1"/>
<circle cx="264.1" cy="1611.08" r="5.1"/>
<circle cx="264.1" cy="1614.72" r="5.1"/>
<circle cx="264.1" cy="1619.83" r="5.1"/>
<circle cx="264.1" cy="1624.93" r="5.1"/>
<circle cx="264.1" cy="1632.21" r="5.1"/>
<circle cx="264.1" cy="1636.58" r="5.1"/>
<circle cx="264.1" cy="1642.41" r="5.1"/>
<circle cx="264.1" cy="1648.24" r="5.1"/>
<circle cx="264.1" cy="1653.34" r="5.1"/>
<circle cx="264.1" cy="1675.2" r="5.1"/>
<circle cx="264.1" cy="1678.12" r="5.1"/>
<circle cx="264.1" cy="1680.3" r="5.1"/>
<circle cx="264.1" cy="1596.36" r="5.1"/>
<circle cx="264.1" cy="1601.97" r="5.1"/>
<circle cx="264.1" cy="1606.35" r="5.1"/>
<circle cx="264.1" cy="1609.62" r="5.1"/>
<circle cx="264.1" cy="1612.9" r="5.1"/>
<circle cx="264.1" cy="1617.27" r="5.1"/>
<circle cx="264.1" cy="1622.38" r="5.1"/>
<circle cx="264.1" cy="1628.57" r="5.1"/>
<circle cx="264.1" cy="1634.4" r="5.1"/>
<circle cx="264.1" cy="1639.5" r="5.1"/>
<circle cx="264.1" cy="1645.33" r="5.1"/>
<circle cx="264.1" cy="1650.79" r="5.1"/>
<circle cx="264.1" cy="1676.66" r="5.1"/>
<circle cx="264.1" cy="1679.21" r="5.1"/>
<circle cx="357.7" cy="1541.57" r="5.1"/>
<circle cx="357.7" cy="1566.34" r="5.1"/>
<circle cx="357.7" cy="1572.46" r="5.1"/>
<circle cx="357.7" cy="1576.11" r="5.1"/>
<circle cx="357.7" cy="1579.02" r="5.1"/>
<circle cx="357.7" cy="1581.94" r="5.1"/>
<circle cx="357.7" cy="1585.58" r="5.1"/>
<circle cx="357.7" cy="1589.22" r="5.1"/>
<circle cx="357.7" cy="1592.87" r="5.1"/>
<circle cx="357.7" cy="1597.24" r="5.1"/>
<circle cx="357.7" cy="1601.61" r="5.1"/>
<circle cx="357.7" cy="1605.98" r="5.1"/>
<circle cx="357.7" cy="1610.35" r="5.1"/>
<circle cx="357.7" cy="1614.72" r="5.1"/>
<circle cx="357.7" cy="1620.55" r="5.1"/>
<circle cx="357.7" cy="1632.21" r="5.1"/>
<circle cx="357.7" cy="1636.58" r="5.1"/>
<circle cx="357.7" cy="1651.16" r="5.1"/>
<circle cx="357.7" cy="1654.8" r="5.1"/>
<circle cx="357.7" cy="1658.44" r="5.1"/>
<circle cx="357.7" cy="1569.4" r="5.1"/>
<circle cx="357.7" cy="1574.28" r="5.1"/>
<circle cx="357.7" cy="1577.56" r="5.1"/>
<circle cx="357.7" cy="1580.48" r="5.1"/>
<circle cx="357.7" cy="1583.76" r="5.1"/>
<circle cx="357.7" cy="1587.4" r="5.1"/>
<circle cx="357.7" cy="1591.04" r="5.1"/>
<circle cx="357.7" cy="1595.05" r="5.1"/>
<circle cx="357.7" cy="1599.42" r="5.1"/>
<circle cx="357.7" cy="1603.79" r="5.1"/>
<circle cx="357.7" cy="1608.17" r="5.1"/>
<circle cx="357.7" cy="1612.54" r="5.1"/>
<circle cx="357.7" cy="1617.64" r="5.1"/>
<circle cx="357.7" cy="1634.4" r="5.1"/>
<circle cx="357.7" cy="1652.98" r="5.1"/>
<circle cx="357.7" cy="1656.62" r="5.1"/>
<circle cx="404.3" cy="1572.03" r="5.1"/>
<circle cx="404.3" cy="1589.22" r="5.1"/>
<circle cx="404.3" cy="1591.41" r="5.1"/>
<circle cx="404.3" cy="1600.88" r="5.1"/>
<circle cx="404.3" cy="1603.07" r="5.1"/>
<circle cx="404.3" cy="1607.44" r="5.1"/>
<circle cx="404.3" cy="1616.18" r="5.1"/>
<circle cx="404.3" cy="1620.55" r="5.1"/>
<circle cx="404.3" cy="1624.93" r="5.1"/>
<circle cx="404.3" cy="1629.3" r="5.1"/>
<circle cx="404.3" cy="1632.21" r="5.1"/>
<circle cx="404.3" cy="1638.04" r="5.1"/>
<circle cx="404.3" cy="1646.06" r="5.1"/>
<circle cx="404.3" cy="1651.89" r="5.1"/>
<circle cx="404.3" cy="1656.26" r="5.1"/>
<circle cx="404.3" cy="1681.76" r="5.1"/>
<circle cx="404.3" cy="1590.31" r="5.1"/>
<circle cx="404.3" cy="1601.97" r="5.1"/>
<circle cx="404.3" cy="1605.25" r="5.1"/>
<circle cx="404.3" cy="1618.37" r="5.1"/>
<circle cx="404.3" cy="1622.74" r="5.1"/>
<circle cx="404.3" cy="1627.11" r="5.1"/>
<circle cx="404.3" cy="1630.75" r="5.1"/>
<circle cx="404.3" cy="1635.13" r="5.1"/>
<circle cx="404.3" cy="1648.97" r="5.1"/>
<circle cx="404.3" cy="1654.07" r="5.1"/>
</g>
<path d="M217.5 1608.9V1620.85M211.5 1608.9H223.5M211.5 1620.85H223.5M264.1 1626.82V1638.77M258.1 1626.82H270.1M258.1 1638.77H270.1M357.7 1600.59V1611.52M351.7 1600.59H363.7M351.7 1611.52H363.7M404.3 1616.91V1627.84M398.3 1616.91H410.3M398.3 1627.84H410.3" stroke="#000" stroke-width="1.5" fill="none"/>
<path d="M218.1 1533.6V1540.4M266.4 1533.6V1540.4" stroke="#000" stroke-width="2" fill="none"/>
<path d="M217.1 1533.6H267.4" stroke="#000" stroke-width="2.6" fill="none"/>
<text x="235.75" y="1529.33" font-size="23.6" text-anchor="middle" transform="rotate(90 235.75 1517.2)" stroke="#000" stroke-width="0.45" style="font-family:'DejaVu Sans',sans-serif">*</text><text x="248.25" y="1529.33" font-size="23.6" text-anchor="middle" transform="rotate(90 248.25 1517.2)" stroke="#000" stroke-width="0.45" style="font-family:'DejaVu Sans',sans-serif">*</text>
<path d="M356.8 1521.5V1528.3M404.5 1521.5V1528.3" stroke="#000" stroke-width="2" fill="none"/>
<path d="M355.8 1521.5H405.5" stroke="#000" stroke-width="2.6" fill="none"/>
<text x="374.35" y="1517.53" font-size="23.6" text-anchor="middle" transform="rotate(90 374.35 1505.4)" stroke="#000" stroke-width="0.45" style="font-family:'DejaVu Sans',sans-serif">*</text><text x="386.85" y="1517.53" font-size="23.6" text-anchor="middle" transform="rotate(90 386.85 1505.4)" stroke="#000" stroke-width="0.45" style="font-family:'DejaVu Sans',sans-serif">*</text>
<text x="91.97" y="1496.8" font-size="40" textLength="29.35" lengthAdjust="spacingAndGlyphs" stroke="#000" stroke-width="0.3">H</text>
<text transform="translate(120 1680.5) rotate(-90)" font-size="27.5" stroke="#000" stroke-width="0.3" text-anchor="middle" textLength="192" lengthAdjust="spacingAndGlyphs">Tryptophan (10<tspan font-size="16" dy="-9.5">-3</tspan><tspan dy="9.5">)</tspan></text>
<text x="243.7" y="1886.4" font-size="25" text-anchor="middle" textLength="84" lengthAdjust="spacingAndGlyphs" stroke="#000" stroke-width="0.3">Control</text>
<text x="384.3" y="1886.4" font-size="25" text-anchor="middle" textLength="66" lengthAdjust="spacingAndGlyphs" stroke="#000" stroke-width="0.3">Stress</text>
<g shape-rendering="crispEdges">
<rect x="593.3" y="1615.1" width="39.2" height="236" fill="#f8bb80"/>
<rect x="639.7" y="1598.3" width="39" height="252.8" fill="#0b7ea4"/>
<rect x="732.7" y="1610.9" width="39.2" height="240.2" fill="#f8bb80"/>
<rect x="779" y="1603.5" width="39" height="247.6" fill="#0b7ea4"/>
</g>
<path d="M589.9 1506.6V1851.1M582.7 1851.1H821.5M582.7 1506.6H589.9M582.7 1555.81H589.9M582.7 1605.03H589.9M582.7 1654.24H589.9M582.7 1703.46H589.9M582.7 1752.67H589.9M582.7 1801.89H589.9" stroke="#7e7f83" stroke-width="1.8" fill="none"/>
<text x="576" y="1515.6" font-size="25" text-anchor="end" textLength="32.32" lengthAdjust="spacingAndGlyphs" stroke="#000" stroke-width="0.3">3.5</text>
<text x="576" y="1564.81" font-size="25" text-anchor="end" textLength="32.32" lengthAdjust="spacingAndGlyphs" stroke="#000" stroke-width="0.3">3.0</text>
<text x="576" y="1614.03" font-size="25" text-anchor="end" textLength="32.32" lengthAdjust="spacingAndGlyphs" stroke="#000" stroke-width="0.3">2.5</text>
<text x="576" y="1663.24" font-size="25" text-anchor="end" textLength="32.32" lengthAdjust="spacingAndGlyphs" stroke="#000" stroke-width="0.3">2.0</text>
<text x="576" y="1712.46" font-size="25" text-anchor="end" textLength="32.32" lengthAdjust="spacingAndGlyphs" stroke="#000" stroke-width="0.3">1.5</text>
<text x="576" y="1761.67" font-size="25" text-anchor="end" textLength="32.32" lengthAdjust="spacingAndGlyphs" stroke="#000" stroke-width="0.3">1.0</text>
<text x="576" y="1810.89" font-size="25" text-anchor="end" textLength="32.32" lengthAdjust="spacingAndGlyphs" stroke="#000" stroke-width="0.3">0.5</text>
<text x="576" y="1860.1" font-size="25" text-anchor="end" textLength="12.93" lengthAdjust="spacingAndGlyphs" stroke="#000" stroke-width="0.3">0</text>
<g fill="#15151c" fill-opacity="0.68">
<circle cx="612.4" cy="1574.21" r="5.1"/>
<circle cx="612.4" cy="1586.31" r="5.1"/>
<circle cx="612.4" cy="1589.95" r="5.1"/>
<circle cx="612.4" cy="1593.59" r="5.1"/>
<circle cx="612.4" cy="1597.24" r="5.1"/>
<circle cx="612.4" cy="1600.88" r="5.1"/>
<circle cx="612.4" cy="1604.52" r="5.1"/>
<circle cx="612.4" cy="1608.17" r="5.1"/>
<circle cx="612.4" cy="1611.81" r="5.1"/>
<circle cx="612.4" cy="1615.45" r="5.1"/>
<circle cx="612.4" cy="1619.1" r="5.1"/>
<circle cx="612.4" cy="1622.74" r="5.1"/>
<circle cx="612.4" cy="1626.38" r="5.1"/>
<circle cx="612.4" cy="1630.03" r="5.1"/>
<circle cx="612.4" cy="1633.67" r="5.1"/>
<circle cx="612.4" cy="1637.31" r="5.1"/>
<circle cx="612.4" cy="1588.13" r="5.1"/>
<circle cx="612.4" cy="1591.77" r="5.1"/>
<circle cx="612.4" cy="1595.42" r="5.1"/>
<circle cx="612.4" cy="1599.06" r="5.1"/>
<circle cx="612.4" cy="1602.7" r="5.1"/>
<circle cx="612.4" cy="1606.35" r="5.1"/>
<circle cx="612.4" cy="1609.99" r="5.1"/>
<circle cx="612.4" cy="1613.63" r="5.1"/>
<circle cx="612.4" cy="1617.27" r="5.1"/>
<circle cx="612.4" cy="1620.92" r="5.1"/>
<circle cx="612.4" cy="1624.56" r="5.1"/>
<circle cx="612.4" cy="1628.2" r="5.1"/>
<circle cx="612.4" cy="1631.85" r="5.1"/>
<circle cx="612.4" cy="1635.49" r="5.1"/>
<circle cx="658.8" cy="1570.57" r="5.1"/>
<circle cx="658.8" cy="1579.75" r="5.1"/>
<circle cx="658.8" cy="1582.66" r="5.1"/>
<circle cx="658.8" cy="1585.58" r="5.1"/>
<circle cx="658.8" cy="1588.49" r="5.1"/>
<circle cx="658.8" cy="1592.14" r="5.1"/>
<circle cx="658.8" cy="1595.78" r="5.1"/>
<circle cx="658.8" cy="1599.42" r="5.1"/>
<circle cx="658.8" cy="1603.07" r="5.1"/>
<circle cx="658.8" cy="1605.98" r="5.1"/>
<circle cx="658.8" cy="1620.99" r="5.1"/>
<circle cx="658.8" cy="1640.96" r="5.1"/>
<circle cx="658.8" cy="1648.24" r="5.1"/>
<circle cx="658.8" cy="1581.21" r="5.1"/>
<circle cx="658.8" cy="1584.12" r="5.1"/>
<circle cx="658.8" cy="1587.04" r="5.1"/>
<circle cx="658.8" cy="1590.31" r="5.1"/>
<circle cx="658.8" cy="1593.96" r="5.1"/>
<circle cx="658.8" cy="1597.6" r="5.1"/>
<circle cx="658.8" cy="1601.24" r="5.1"/>
<circle cx="658.8" cy="1604.52" r="5.1"/>
<circle cx="658.8" cy="1644.6" r="5.1"/>
<circle cx="751.8" cy="1552.35" r="5.1"/>
<circle cx="751.8" cy="1583.39" r="5.1"/>
<circle cx="751.8" cy="1587.04" r="5.1"/>
<circle cx="751.8" cy="1591.41" r="5.1"/>
<circle cx="751.8" cy="1595.78" r="5.1"/>
<circle cx="751.8" cy="1600.15" r="5.1"/>
<circle cx="751.8" cy="1604.52" r="5.1"/>
<circle cx="751.8" cy="1608.9" r="5.1"/>
<circle cx="751.8" cy="1613.27" r="5.1"/>
<circle cx="751.8" cy="1617.64" r="5.1"/>
<circle cx="751.8" cy="1622.01" r="5.1"/>
<circle cx="751.8" cy="1626.38" r="5.1"/>
<circle cx="751.8" cy="1630.03" r="5.1"/>
<circle cx="751.8" cy="1633.67" r="5.1"/>
<circle cx="751.8" cy="1647.95" r="5.1"/>
<circle cx="751.8" cy="1585.21" r="5.1"/>
<circle cx="751.8" cy="1589.22" r="5.1"/>
<circle cx="751.8" cy="1593.59" r="5.1"/>
<circle cx="751.8" cy="1597.97" r="5.1"/>
<circle cx="751.8" cy="1602.34" r="5.1"/>
<circle cx="751.8" cy="1606.71" r="5.1"/>
<circle cx="751.8" cy="1611.08" r="5.1"/>
<circle cx="751.8" cy="1615.45" r="5.1"/>
<circle cx="751.8" cy="1619.83" r="5.1"/>
<circle cx="751.8" cy="1624.2" r="5.1"/>
<circle cx="751.8" cy="1628.2" r="5.1"/>
<circle cx="751.8" cy="1631.85" r="5.1"/>
<circle cx="798.2" cy="1564.01" r="5.1"/>
<circle cx="798.2" cy="1576.11" r="5.1"/>
<circle cx="798.2" cy="1580.48" r="5.1"/>
<circle cx="798.2" cy="1581.21" r="5.1"/>
<circle cx="798.2" cy="1586.31" r="5.1"/>
<circle cx="798.2" cy="1593.59" r="5.1"/>
<circle cx="798.2" cy="1598.69" r="5.1"/>
<circle cx="798.2" cy="1602.34" r="5.1"/>
<circle cx="798.2" cy="1605.98" r="5.1"/>
<circle cx="798.2" cy="1608.9" r="5.1"/>
<circle cx="798.2" cy="1611.08" r="5.1"/>
<circle cx="798.2" cy="1632.94" r="5.1"/>
<circle cx="798.2" cy="1635.86" r="5.1"/>
<circle cx="798.2" cy="1638.04" r="5.1"/>
<circle cx="798.2" cy="1578.29" r="5.1"/>
<circle cx="798.2" cy="1583.76" r="5.1"/>
<circle cx="798.2" cy="1589.95" r="5.1"/>
<circle cx="798.2" cy="1596.14" r="5.1"/>
<circle cx="798.2" cy="1600.52" r="5.1"/>
<circle cx="798.2" cy="1604.16" r="5.1"/>
<circle cx="798.2" cy="1607.44" r="5.1"/>
<circle cx="798.2" cy="1609.99" r="5.1"/>
<circle cx="798.2" cy="1634.4" r="5.1"/>
<circle cx="798.2" cy="1636.95" r="5.1"/>
</g>
<path d="M612.4 1611.52V1617.64M606.4 1611.52H618.4M606.4 1617.64H618.4M658.8 1594.76V1603.07M652.8 1594.76H664.8M652.8 1603.07H664.8M751.8 1607.15V1615.02M745.8 1607.15H757.8M745.8 1615.02H757.8M798.2 1599.42V1607.88M792.2 1599.42H804.2M792.2 1607.88H804.2" stroke="#000" stroke-width="1.5" fill="none"/>
<path d="M612.6 1547.1V1553.9M660.4 1547.1V1553.9" stroke="#000" stroke-width="2" fill="none"/>
<path d="M611.6 1547.1H661.4" stroke="#000" stroke-width="2.6" fill="none"/>
<text x="629.75" y="1543.43" font-size="23.6" text-anchor="middle" transform="rotate(90 629.75 1531.3)" stroke="#000" stroke-width="0.45" style="font-family:'DejaVu Sans',sans-serif">*</text><text x="642.25" y="1543.43" font-size="23.6" text-anchor="middle" transform="rotate(90 642.25 1531.3)" stroke="#000" stroke-width="0.45" style="font-family:'DejaVu Sans',sans-serif">*</text>
<path d="M751.5 1525.7V1532.5M799.2 1525.7V1532.5" stroke="#000" stroke-width="2" fill="none"/>
<path d="M750.5 1525.7H800.2" stroke="#000" stroke-width="2.6" fill="none"/>
<text x="768.35" y="1521.93" font-size="23.6" text-anchor="middle" transform="rotate(90 768.35 1509.8)" stroke="#000" stroke-width="0.45" style="font-family:'DejaVu Sans',sans-serif">*</text><text x="780.85" y="1521.93" font-size="23.6" text-anchor="middle" transform="rotate(90 780.85 1509.8)" stroke="#000" stroke-width="0.45" style="font-family:'DejaVu Sans',sans-serif">*</text>
<text x="493.25" y="1496.8" font-size="40" textLength="13.11" lengthAdjust="spacingAndGlyphs" stroke="#000" stroke-width="0.3">I</text>
<text transform="translate(515.2 1680.5) rotate(-90)" font-size="27.5" stroke="#000" stroke-width="0.3" text-anchor="middle" textLength="176" lengthAdjust="spacingAndGlyphs">Glutamate (10<tspan font-size="16" dy="-9.5">-1</tspan><tspan dy="9.5">)</tspan></text>
<text x="638.5" y="1886.4" font-size="25" text-anchor="middle" textLength="84" lengthAdjust="spacingAndGlyphs" stroke="#000" stroke-width="0.3">Control</text>
<text x="779.5" y="1886.4" font-size="25" text-anchor="middle" textLength="66" lengthAdjust="spacingAndGlyphs" stroke="#000" stroke-width="0.3">Stress</text>
<g shape-rendering="crispEdges">
<rect x="986.4" y="1588" width="39.2" height="263.1" fill="#f8bb80"/>
<rect x="1032.8" y="1608.5" width="39.2" height="242.6" fill="#0b7ea4"/>
<rect x="1126.2" y="1586.8" width="39.3" height="264.3" fill="#f8bb80"/>
<rect x="1172.9" y="1600.6" width="39.2" height="250.5" fill="#0b7ea4"/>
</g>
<path d="M983.2 1506.6V1851.1M976 1851.1H1215.5M976 1506.6H983.2M976 1555.81H983.2M976 1605.03H983.2M976 1654.24H983.2M976 1703.46H983.2M976 1752.67H983.2M976 1801.89H983.2" stroke="#7e7f83" stroke-width="1.8" fill="none"/>
<text x="968.9" y="1515.6" font-size="25" text-anchor="end" textLength="32.32" lengthAdjust="spacingAndGlyphs" stroke="#000" stroke-width="0.3">1.4</text>
<text x="968.9" y="1564.81" font-size="25" text-anchor="end" textLength="32.32" lengthAdjust="spacingAndGlyphs" stroke="#000" stroke-width="0.3">1.2</text>
<text x="968.9" y="1614.03" font-size="25" text-anchor="end" textLength="32.32" lengthAdjust="spacingAndGlyphs" stroke="#000" stroke-width="0.3">1.0</text>
<text x="968.9" y="1663.24" font-size="25" text-anchor="end" textLength="32.32" lengthAdjust="spacingAndGlyphs" stroke="#000" stroke-width="0.3">0.8</text>
<text x="968.9" y="1712.46" font-size="25" text-anchor="end" textLength="32.32" lengthAdjust="spacingAndGlyphs" stroke="#000" stroke-width="0.3">0.6</text>
<text x="968.9" y="1761.67" font-size="25" text-anchor="end" textLength="32.32" lengthAdjust="spacingAndGlyphs" stroke="#000" stroke-width="0.3">0.4</text>
<text x="968.9" y="1810.89" font-size="25" text-anchor="end" textLength="32.32" lengthAdjust="spacingAndGlyphs" stroke="#000" stroke-width="0.3">0.2</text>
<text x="968.9" y="1860.1" font-size="25" text-anchor="end" textLength="12.93" lengthAdjust="spacingAndGlyphs" stroke="#000" stroke-width="0.3">0</text>
<g fill="#15151c" fill-opacity="0.68">
<circle cx="1005.4" cy="1527.69" r="5.1"/>
<circle cx="1005.4" cy="1534.25" r="5.1"/>
<circle cx="1005.4" cy="1539.35" r="5.1"/>
<circle cx="1005.4" cy="1553.92" r="5.1"/>
<circle cx="1005.4" cy="1554.65" r="5.1"/>
<circle cx="1005.4" cy="1562.66" r="5.1"/>
<circle cx="1005.4" cy="1568.49" r="5.1"/>
<circle cx="1005.4" cy="1572.87" r="5.1"/>
<circle cx="1005.4" cy="1581.61" r="5.1"/>
<circle cx="1005.4" cy="1585.98" r="5.1"/>
<circle cx="1005.4" cy="1590.35" r="5.1"/>
<circle cx="1005.4" cy="1599.1" r="5.1"/>
<circle cx="1005.4" cy="1602.01" r="5.1"/>
<circle cx="1005.4" cy="1604.2" r="5.1"/>
<circle cx="1005.4" cy="1607.11" r="5.1"/>
<circle cx="1005.4" cy="1613.67" r="5.1"/>
<circle cx="1005.4" cy="1634.36" r="5.1"/>
<circle cx="1005.4" cy="1642.52" r="5.1"/>
<circle cx="1005.4" cy="1652.29" r="5.1"/>
<circle cx="1005.4" cy="1653.02" r="5.1"/>
<circle cx="1005.4" cy="1530.97" r="5.1"/>
<circle cx="1005.4" cy="1536.8" r="5.1"/>
<circle cx="1005.4" cy="1565.58" r="5.1"/>
<circle cx="1005.4" cy="1570.68" r="5.1"/>
<circle cx="1005.4" cy="1583.79" r="5.1"/>
<circle cx="1005.4" cy="1588.17" r="5.1"/>
<circle cx="1005.4" cy="1600.55" r="5.1"/>
<circle cx="1005.4" cy="1603.1" r="5.1"/>
<circle cx="1005.4" cy="1605.65" r="5.1"/>
<circle cx="1005.4" cy="1610.39" r="5.1"/>
<circle cx="1052.2" cy="1532.79" r="5.1"/>
<circle cx="1052.2" cy="1564.12" r="5.1"/>
<circle cx="1052.2" cy="1570.68" r="5.1"/>
<circle cx="1052.2" cy="1572.87" r="5.1"/>
<circle cx="1052.2" cy="1582.77" r="5.1"/>
<circle cx="1052.2" cy="1589.62" r="5.1"/>
<circle cx="1052.2" cy="1594" r="5.1"/>
<circle cx="1052.2" cy="1609.3" r="5.1"/>
<circle cx="1052.2" cy="1613.67" r="5.1"/>
<circle cx="1052.2" cy="1623.87" r="5.1"/>
<circle cx="1052.2" cy="1634.07" r="5.1"/>
<circle cx="1052.2" cy="1640.63" r="5.1"/>
<circle cx="1052.2" cy="1643.54" r="5.1"/>
<circle cx="1052.2" cy="1650.1" r="5.1"/>
<circle cx="1052.2" cy="1660.74" r="5.1"/>
<circle cx="1052.2" cy="1567.4" r="5.1"/>
<circle cx="1052.2" cy="1571.77" r="5.1"/>
<circle cx="1052.2" cy="1586.2" r="5.1"/>
<circle cx="1052.2" cy="1591.81" r="5.1"/>
<circle cx="1052.2" cy="1611.48" r="5.1"/>
<circle cx="1052.2" cy="1637.35" r="5.1"/>
<circle cx="1052.2" cy="1642.09" r="5.1"/>
<circle cx="1052.2" cy="1646.82" r="5.1"/>
<circle cx="1145.6" cy="1530.6" r="5.1"/>
<circle cx="1145.6" cy="1532.06" r="5.1"/>
<circle cx="1145.6" cy="1545.18" r="5.1"/>
<circle cx="1145.6" cy="1551.73" r="5.1"/>
<circle cx="1145.6" cy="1553.92" r="5.1"/>
<circle cx="1145.6" cy="1562.66" r="5.1"/>
<circle cx="1145.6" cy="1568.49" r="5.1"/>
<circle cx="1145.6" cy="1575.78" r="5.1"/>
<circle cx="1145.6" cy="1581.61" r="5.1"/>
<circle cx="1145.6" cy="1587.44" r="5.1"/>
<circle cx="1145.6" cy="1594.72" r="5.1"/>
<circle cx="1145.6" cy="1600.55" r="5.1"/>
<circle cx="1145.6" cy="1610.03" r="5.1"/>
<circle cx="1145.6" cy="1612.21" r="5.1"/>
<circle cx="1145.6" cy="1621.68" r="5.1"/>
<circle cx="1145.6" cy="1628.24" r="5.1"/>
<circle cx="1145.6" cy="1630.43" r="5.1"/>
<circle cx="1145.6" cy="1639.9" r="5.1"/>
<circle cx="1145.6" cy="1642.09" r="5.1"/>
<circle cx="1145.6" cy="1548.46" r="5.1"/>
<circle cx="1145.6" cy="1552.83" r="5.1"/>
<circle cx="1145.6" cy="1565.58" r="5.1"/>
<circle cx="1145.6" cy="1572.14" r="5.1"/>
<circle cx="1145.6" cy="1578.69" r="5.1"/>
<circle cx="1145.6" cy="1584.52" r="5.1"/>
<circle cx="1145.6" cy="1591.08" r="5.1"/>
<circle cx="1145.6" cy="1597.64" r="5.1"/>
<circle cx="1145.6" cy="1611.12" r="5.1"/>
<circle cx="1145.6" cy="1624.96" r="5.1"/>
<circle cx="1145.6" cy="1629.34" r="5.1"/>
<circle cx="1145.6" cy="1640.99" r="5.1"/>
<circle cx="1192.2" cy="1535.7" r="5.1"/>
<circle cx="1192.2" cy="1540.08" r="5.1"/>
<circle cx="1192.2" cy="1546.63" r="5.1"/>
<circle cx="1192.2" cy="1569.22" r="5.1"/>
<circle cx="1192.2" cy="1589.62" r="5.1"/>
<circle cx="1192.2" cy="1593.27" r="5.1"/>
<circle cx="1192.2" cy="1596.91" r="5.1"/>
<circle cx="1192.2" cy="1600.55" r="5.1"/>
<circle cx="1192.2" cy="1603.47" r="5.1"/>
<circle cx="1192.2" cy="1606.38" r="5.1"/>
<circle cx="1192.2" cy="1612.94" r="5.1"/>
<circle cx="1192.2" cy="1629.41" r="5.1"/>
<circle cx="1192.2" cy="1639.61" r="5.1"/>
<circle cx="1192.2" cy="1653.31" r="5.1"/>
<circle cx="1192.2" cy="1673.86" r="5.1"/>
<circle cx="1192.2" cy="1537.89" r="5.1"/>
<circle cx="1192.2" cy="1543.35" r="5.1"/>
<circle cx="1192.2" cy="1591.45" r="5.1"/>
<circle cx="1192.2" cy="1595.09" r="5.1"/>
<circle cx="1192.2" cy="1598.73" r="5.1"/>
<circle cx="1192.2" cy="1602.01" r="5.1"/>
<circle cx="1192.2" cy="1604.93" r="5.1"/>
<circle cx="1192.2" cy="1609.66" r="5.1"/>
</g>
<path d="M1005.4 1580.88V1594M999.4 1580.88H1011.4M999.4 1594H1011.4M1052.2 1600.99V1615.42M1046.2 1600.99H1058.2M1046.2 1615.42H1058.2M1145.6 1579.86V1592.83M1139.6 1579.86H1151.6M1139.6 1592.83H1151.6M1192.2 1592.83V1607.84M1186.2 1592.83H1198.2M1186.2 1607.84H1198.2" stroke="#000" stroke-width="1.5" fill="none"/>
<path d="M1006.2 1504.7V1511.5M1054.2 1504.7V1511.5" stroke="#000" stroke-width="2" fill="none"/>
<path d="M1005.2 1504.7H1055.2" stroke="#000" stroke-width="2.6" fill="none"/>
<text x="1030" y="1498.93" font-size="23.6" text-anchor="middle" transform="rotate(90 1030 1486.8)" stroke="#000" stroke-width="0.45" style="font-family:'DejaVu Sans',sans-serif">*</text>
<path d="M1144.5 1508.2V1515M1192.5 1508.2V1515" stroke="#000" stroke-width="2" fill="none"/>
<path d="M1143.5 1508.2H1193.5" stroke="#000" stroke-width="2.6" fill="none"/>
<text x="1168.2" y="1503.93" font-size="23.6" text-anchor="middle" transform="rotate(90 1168.2 1491.8)" stroke="#000" stroke-width="0.45" style="font-family:'DejaVu Sans',sans-serif">*</text>
<text x="871.73" y="1496.8" font-size="40" textLength="14.99" lengthAdjust="spacingAndGlyphs" stroke="#000" stroke-width="0.3">J</text>
<text transform="translate(908.5 1680.5) rotate(-90)" font-size="27.5" stroke="#000" stroke-width="0.3" text-anchor="middle" textLength="122" lengthAdjust="spacingAndGlyphs">GABA (10<tspan font-size="16" dy="-9.5">-1</tspan><tspan dy="9.5">)</tspan></text>
<text x="1031.3" y="1886.4" font-size="25" text-anchor="middle" textLength="84" lengthAdjust="spacingAndGlyphs" stroke="#000" stroke-width="0.3">Control</text>
<text x="1173.1" y="1886.4" font-size="25" text-anchor="middle" textLength="66" lengthAdjust="spacingAndGlyphs" stroke="#000" stroke-width="0.3">Stress</text>
<g shape-rendering="crispEdges">
<rect x="1379.3" y="1660" width="39.8" height="191.3" fill="#f8bb80"/>
<rect x="1426" y="1684.6" width="39.5" height="166.7" fill="#0b7ea4"/>
<rect x="1520.3" y="1659.4" width="39.2" height="191.9" fill="#f8bb80"/>
<rect x="1567.3" y="1666.6" width="39.5" height="184.7" fill="#0b7ea4"/>
</g>
<path d="M1375.7 1509.4V1851.3M1368.5 1851.3H1609.2M1368.5 1509.4H1375.7M1368.5 1552.14H1375.7M1368.5 1594.88H1375.7M1368.5 1637.61H1375.7M1368.5 1680.35H1375.7M1368.5 1723.09H1375.7M1368.5 1765.83H1375.7M1368.5 1808.56H1375.7" stroke="#7e7f83" stroke-width="1.8" fill="none"/>
<text x="1363.1" y="1518.4" font-size="25" text-anchor="end" textLength="32.32" lengthAdjust="spacingAndGlyphs" stroke="#000" stroke-width="0.3">0.8</text>
<text x="1363.1" y="1561.14" font-size="25" text-anchor="end" textLength="32.32" lengthAdjust="spacingAndGlyphs" stroke="#000" stroke-width="0.3">0.7</text>
<text x="1363.1" y="1603.88" font-size="25" text-anchor="end" textLength="32.32" lengthAdjust="spacingAndGlyphs" stroke="#000" stroke-width="0.3">0.6</text>
<text x="1363.1" y="1646.61" font-size="25" text-anchor="end" textLength="32.32" lengthAdjust="spacingAndGlyphs" stroke="#000" stroke-width="0.3">0.5</text>
<text x="1363.1" y="1689.35" font-size="25" text-anchor="end" textLength="32.32" lengthAdjust="spacingAndGlyphs" stroke="#000" stroke-width="0.3">0.4</text>
<text x="1363.1" y="1732.09" font-size="25" text-anchor="end" textLength="32.32" lengthAdjust="spacingAndGlyphs" stroke="#000" stroke-width="0.3">0.3</text>
<text x="1363.1" y="1774.83" font-size="25" text-anchor="end" textLength="32.32" lengthAdjust="spacingAndGlyphs" stroke="#000" stroke-width="0.3">0.2</text>
<text x="1363.1" y="1817.56" font-size="25" text-anchor="end" textLength="32.32" lengthAdjust="spacingAndGlyphs" stroke="#000" stroke-width="0.3">0.1</text>
<text x="1363.1" y="1860.3" font-size="25" text-anchor="end" textLength="12.93" lengthAdjust="spacingAndGlyphs" stroke="#000" stroke-width="0.3">0</text>
<g fill="#15151c" fill-opacity="0.68">
<circle cx="1398.8" cy="1597.85" r="5.1"/>
<circle cx="1398.8" cy="1607.33" r="5.1"/>
<circle cx="1398.8" cy="1612.14" r="5.1"/>
<circle cx="1398.8" cy="1616.51" r="5.1"/>
<circle cx="1398.8" cy="1620.88" r="5.1"/>
<circle cx="1398.8" cy="1625.25" r="5.1"/>
<circle cx="1398.8" cy="1629.62" r="5.1"/>
<circle cx="1398.8" cy="1634.72" r="5.1"/>
<circle cx="1398.8" cy="1647.84" r="5.1"/>
<circle cx="1398.8" cy="1650.75" r="5.1"/>
<circle cx="1398.8" cy="1656.58" r="5.1"/>
<circle cx="1398.8" cy="1660.96" r="5.1"/>
<circle cx="1398.8" cy="1665.33" r="5.1"/>
<circle cx="1398.8" cy="1671.16" r="5.1"/>
<circle cx="1398.8" cy="1676.99" r="5.1"/>
<circle cx="1398.8" cy="1685.73" r="5.1"/>
<circle cx="1398.8" cy="1691.56" r="5.1"/>
<circle cx="1398.8" cy="1696.66" r="5.1"/>
<circle cx="1398.8" cy="1709.78" r="5.1"/>
<circle cx="1398.8" cy="1714.15" r="5.1"/>
<circle cx="1398.8" cy="1728.72" r="5.1"/>
<circle cx="1398.8" cy="1609.73" r="5.1"/>
<circle cx="1398.8" cy="1614.32" r="5.1"/>
<circle cx="1398.8" cy="1618.69" r="5.1"/>
<circle cx="1398.8" cy="1623.07" r="5.1"/>
<circle cx="1398.8" cy="1627.44" r="5.1"/>
<circle cx="1398.8" cy="1632.17" r="5.1"/>
<circle cx="1398.8" cy="1649.3" r="5.1"/>
<circle cx="1398.8" cy="1653.67" r="5.1"/>
<circle cx="1398.8" cy="1658.77" r="5.1"/>
<circle cx="1398.8" cy="1663.14" r="5.1"/>
<circle cx="1398.8" cy="1668.24" r="5.1"/>
<circle cx="1398.8" cy="1674.07" r="5.1"/>
<circle cx="1398.8" cy="1688.64" r="5.1"/>
<circle cx="1398.8" cy="1694.11" r="5.1"/>
<circle cx="1398.8" cy="1711.96" r="5.1"/>
<circle cx="1445.6" cy="1581.97" r="5.1"/>
<circle cx="1445.6" cy="1616.95" r="5.1"/>
<circle cx="1445.6" cy="1644.2" r="5.1"/>
<circle cx="1445.6" cy="1659.5" r="5.1"/>
<circle cx="1445.6" cy="1673.34" r="5.1"/>
<circle cx="1445.6" cy="1676.99" r="5.1"/>
<circle cx="1445.6" cy="1685.73" r="5.1"/>
<circle cx="1445.6" cy="1688.64" r="5.1"/>
<circle cx="1445.6" cy="1701.76" r="5.1"/>
<circle cx="1445.6" cy="1707.59" r="5.1"/>
<circle cx="1445.6" cy="1713.42" r="5.1"/>
<circle cx="1445.6" cy="1725.08" r="5.1"/>
<circle cx="1445.6" cy="1727.26" r="5.1"/>
<circle cx="1445.6" cy="1675.16" r="5.1"/>
<circle cx="1445.6" cy="1687.19" r="5.1"/>
<circle cx="1445.6" cy="1704.68" r="5.1"/>
<circle cx="1445.6" cy="1710.5" r="5.1"/>
<circle cx="1445.6" cy="1726.17" r="5.1"/>
<circle cx="1539.3" cy="1580.22" r="5.1"/>
<circle cx="1539.3" cy="1599.31" r="5.1"/>
<circle cx="1539.3" cy="1607.76" r="5.1"/>
<circle cx="1539.3" cy="1616.51" r="5.1"/>
<circle cx="1539.3" cy="1617.97" r="5.1"/>
<circle cx="1539.3" cy="1635.45" r="5.1"/>
<circle cx="1539.3" cy="1637.64" r="5.1"/>
<circle cx="1539.3" cy="1642.01" r="5.1"/>
<circle cx="1539.3" cy="1649.3" r="5.1"/>
<circle cx="1539.3" cy="1668.24" r="5.1"/>
<circle cx="1539.3" cy="1675.53" r="5.1"/>
<circle cx="1539.3" cy="1685.73" r="5.1"/>
<circle cx="1539.3" cy="1698.12" r="5.1"/>
<circle cx="1539.3" cy="1703.22" r="5.1"/>
<circle cx="1539.3" cy="1705.4" r="5.1"/>
<circle cx="1539.3" cy="1714.58" r="5.1"/>
<circle cx="1539.3" cy="1636.55" r="5.1"/>
<circle cx="1539.3" cy="1639.83" r="5.1"/>
<circle cx="1539.3" cy="1645.65" r="5.1"/>
<circle cx="1539.3" cy="1671.89" r="5.1"/>
<circle cx="1539.3" cy="1700.67" r="5.1"/>
<circle cx="1539.3" cy="1704.31" r="5.1"/>
<circle cx="1586.5" cy="1555.3" r="5.1"/>
<circle cx="1586.5" cy="1576.43" r="5.1"/>
<circle cx="1586.5" cy="1596.11" r="5.1"/>
<circle cx="1586.5" cy="1606.31" r="5.1"/>
<circle cx="1586.5" cy="1608.49" r="5.1"/>
<circle cx="1586.5" cy="1624.52" r="5.1"/>
<circle cx="1586.5" cy="1642.01" r="5.1"/>
<circle cx="1586.5" cy="1644.93" r="5.1"/>
<circle cx="1586.5" cy="1665.33" r="5.1"/>
<circle cx="1586.5" cy="1674.07" r="5.1"/>
<circle cx="1586.5" cy="1679.9" r="5.1"/>
<circle cx="1586.5" cy="1683.54" r="5.1"/>
<circle cx="1586.5" cy="1692.29" r="5.1"/>
<circle cx="1586.5" cy="1714.15" r="5.1"/>
<circle cx="1586.5" cy="1724.35" r="5.1"/>
<circle cx="1586.5" cy="1738.92" r="5.1"/>
<circle cx="1586.5" cy="1607.4" r="5.1"/>
<circle cx="1586.5" cy="1643.47" r="5.1"/>
<circle cx="1586.5" cy="1676.99" r="5.1"/>
<circle cx="1586.5" cy="1681.72" r="5.1"/>
</g>
<path d="M1398.8 1653.23V1665.62M1392.8 1653.23H1404.8M1392.8 1665.62H1404.8M1445.6 1676.26V1692.29M1439.6 1676.26H1451.6M1439.6 1692.29H1451.6M1539.3 1652.21V1667.08M1533.3 1652.21H1545.3M1533.3 1667.08H1545.3M1586.5 1657.31V1674.8M1580.5 1657.31H1592.5M1580.5 1674.8H1592.5" stroke="#000" stroke-width="1.5" fill="none"/>
<path d="M1396.1 1564.5V1571.3M1443.4 1564.5V1571.3" stroke="#000" stroke-width="2" fill="none"/>
<path d="M1395.1 1564.5H1444.4" stroke="#000" stroke-width="2.6" fill="none"/>
<text x="1413.15" y="1561.73" font-size="23.6" text-anchor="middle" transform="rotate(90 1413.15 1549.6)" stroke="#000" stroke-width="0.45" style="font-family:'DejaVu Sans',sans-serif">*</text><text x="1425.65" y="1561.73" font-size="23.6" text-anchor="middle" transform="rotate(90 1425.65 1549.6)" stroke="#000" stroke-width="0.45" style="font-family:'DejaVu Sans',sans-serif">*</text>
<path d="M1537.7 1537.3V1544.1M1585 1537.3V1544.1" stroke="#000" stroke-width="2" fill="none"/>
<path d="M1536.7 1537.3H1586" stroke="#000" stroke-width="2.6" fill="none"/>
<text x="1555.05" y="1533.83" font-size="23.6" text-anchor="middle" transform="rotate(90 1555.05 1521.7)" stroke="#000" stroke-width="0.45" style="font-family:'DejaVu Sans',sans-serif">*</text><text x="1567.55" y="1533.83" font-size="23.6" text-anchor="middle" transform="rotate(90 1567.55 1521.7)" stroke="#000" stroke-width="0.45" style="font-family:'DejaVu Sans',sans-serif">*</text>
<text x="1271.67" y="1496.8" font-size="40" textLength="23.02" lengthAdjust="spacingAndGlyphs" stroke="#000" stroke-width="0.3">K</text>
<text transform="translate(1301.6 1681) rotate(-90)" font-size="27.5" stroke="#000" stroke-width="0.3" text-anchor="middle" textLength="272" lengthAdjust="spacingAndGlyphs">GABA : glutamate (ratio)</text>
<text x="1424.5" y="1886.4" font-size="25" text-anchor="middle" textLength="84" lengthAdjust="spacingAndGlyphs" stroke="#000" stroke-width="0.3">Control</text>
<text x="1566.4" y="1886.4" font-size="25" text-anchor="middle" textLength="66" lengthAdjust="spacingAndGlyphs" stroke="#000" stroke-width="0.3">Stress</text>
<rect x="1620.6" y="1510.6" width="19.2" height="19.2" fill="#f8bb80"/>
<rect x="1620.6" y="1546.1" width="19.2" height="19.2" fill="#0b7ea4"/>
<text x="1646.1" y="1527.9" font-size="31" textLength="43" lengthAdjust="spacingAndGlyphs" stroke="#000" stroke-width="0.3">WT</text>
<text x="1646.1" y="1563.2" font-size="31" textLength="137" lengthAdjust="spacingAndGlyphs" stroke="#000" stroke-width="0.3">Ndufs4<tspan font-size="17.5" dy="-11.5">GT/GT</tspan><tspan dy="11.5"></tspan></text>
</svg>
</body></html>
